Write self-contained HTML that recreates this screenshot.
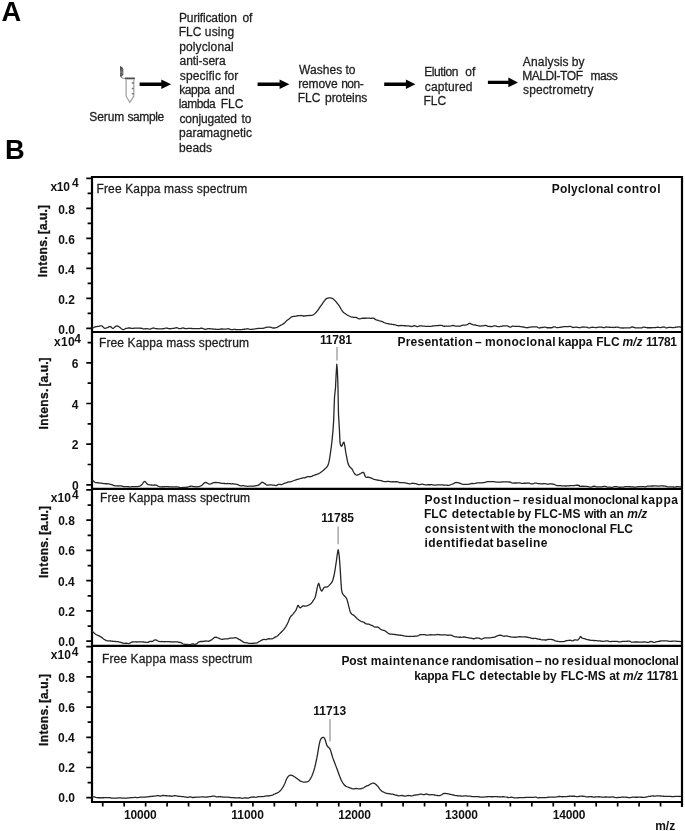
<!DOCTYPE html>
<html><head><meta charset="utf-8"><title>Figure</title>
<style>
html,body{margin:0;padding:0;background:#fff;}
body{width:685px;height:831px;overflow:hidden;position:relative;font-family:"Liberation Sans", sans-serif;}
svg{position:absolute;left:0;top:0;display:block;will-change:transform;filter:blur(0.3px);}
svg text{font-family:"Liberation Sans", sans-serif;}
</style></head>
<body>
<svg width="685" height="831" viewBox="0 0 685 831">

<g>
<defs><linearGradient id="capg" x1="0" y1="0" x2="0" y2="1"><stop offset="0" stop-color="#3a3a3a"/><stop offset="0.25" stop-color="#555"/><stop offset="0.6" stop-color="#7a7a7a"/><stop offset="1" stop-color="#4a4a4a"/></linearGradient></defs>
<path d="M120.0,66.0 L122.3,67.3 L123.4,69.6 L123.4,74.4 L121.6,76.8 L120.0,76.8 Z" fill="url(#capg)"/>
<path d="M120.4,76.6 Q121.6,78.5 125.4,78.5" fill="none" stroke="#8a8a8a" stroke-width="1"/>
<rect x="125.0" y="77.5" width="9.9" height="1.8" fill="#4d4d4d"/>
<path d="M126.1,79.2 L126.1,96.2 L129.8,102.4 L133.8,96.2 L133.8,79.2" fill="none" stroke="#a2a2a2" stroke-width="1.25"/>
<path d="M131.7,83.1 h2.1 M131.7,88.4 h2.1 M131.7,93.7 h2.1" stroke="#7a7a7a" stroke-width="1.5"/>
</g>
<path d="M139.6,82.5 L161.3,82.5 L161.3,79.4 L171.1,84.2 L161.3,89.0 L161.3,85.9 L139.6,85.9 Z" fill="#000"/>
<path d="M257.6,82.6 L279.6,82.6 L279.6,79.5 L289.4,84.3 L279.6,89.1 L279.6,86.0 L257.6,86.0 Z" fill="#000"/>
<path d="M384.2,82.6 L405.9,82.6 L405.9,79.5 L415.4,84.3 L405.9,89.1 L405.9,86.0 L384.2,86.0 Z" fill="#000"/>
<path d="M487.9,80.7 L508.3,80.7 L508.3,77.60000000000001 L518.0,82.4 L508.3,87.2 L508.3,84.10000000000001 L487.9,84.10000000000001 Z" fill="#000"/>
<g stroke="#000" stroke-width="2.2" fill="none">
<path d="M92,176 L92,802 M91,177 L682,177 M682,176 L682,807 M91,332 L683,332 M91,488.8 L683,488.8 M91,645.8 L683,645.8 M91,802 L683,802"/>
</g>
<path d="M86.3,328.30 L92,328.30 M87.6,313.30 L92,313.30 M86.3,298.30 L92,298.30 M87.6,283.30 L92,283.30 M86.3,268.30 L92,268.30 M87.6,253.30 L92,253.30 M86.3,238.30 L92,238.30 M87.6,223.30 L92,223.30 M86.3,208.30 L92,208.30 M87.6,193.30 L92,193.30 M86.3,178.30 L92,178.30 M86.3,484.80 L92,484.80 M87.6,464.48 L92,464.48 M86.3,444.16 L92,444.16 M87.6,423.84 L92,423.84 M86.3,403.52 L92,403.52 M87.6,383.20 L92,383.20 M86.3,362.88 L92,362.88 M87.6,342.56 L92,342.56 M86.3,641.20 L92,641.20 M87.6,626.08 L92,626.08 M86.3,610.95 L92,610.95 M87.6,595.83 L92,595.83 M86.3,580.70 L92,580.70 M87.6,565.58 L92,565.58 M86.3,550.45 L92,550.45 M87.6,535.33 L92,535.33 M86.3,520.20 L92,520.20 M87.6,505.08 L92,505.08 M86.3,489.95 L92,489.95 M86.3,797.70 L92,797.70 M87.6,782.60 L92,782.60 M86.3,767.50 L92,767.50 M87.6,752.40 L92,752.40 M86.3,737.30 L92,737.30 M87.6,722.20 L92,722.20 M86.3,707.10 L92,707.10 M87.6,692.00 L92,692.00 M86.3,676.90 L92,676.90 M87.6,661.80 L92,661.80 M86.3,646.70 L92,646.70" stroke="#000" stroke-width="1.7" fill="none"/>
<path d="M102.73,802 L102.73,806.6 M124.18,802 L124.18,806.6 M145.64,802 L145.64,806.6 M167.09,802 L167.09,806.6 M188.55,802 L188.55,806.6 M210.00,802 L210.00,806.6 M231.45,802 L231.45,806.6 M252.91,802 L252.91,806.6 M274.36,802 L274.36,806.6 M295.82,802 L295.82,806.6 M317.27,802 L317.27,806.6 M338.73,802 L338.73,806.6 M360.18,802 L360.18,806.6 M381.64,802 L381.64,806.6 M403.09,802 L403.09,806.6 M424.55,802 L424.55,806.6 M446.00,802 L446.00,806.6 M467.45,802 L467.45,806.6 M488.91,802 L488.91,806.6 M510.36,802 L510.36,806.6 M531.82,802 L531.82,806.6 M553.27,802 L553.27,806.6 M574.73,802 L574.73,806.6 M596.18,802 L596.18,806.6 M617.64,802 L617.64,806.6 M639.09,802 L639.09,806.6 M660.55,802 L660.55,806.6 M682.00,802 L682.00,806.6" stroke="#000" stroke-width="1.7" fill="none"/>
<path d="M337,347.1 L337,360.6" stroke="#8c8c8c" stroke-width="1.15"/>
<path d="M338.1,526.5 L338.1,544.2" stroke="#8c8c8c" stroke-width="1.15"/>
<path d="M330,719.2 L330,741.6" stroke="#8c8c8c" stroke-width="1.15"/>
<text x="1.39" y="20.50" font-size="27.3" font-weight="bold" fill="#000" stroke="#000" stroke-width="0.0">A</text>
<text x="4.96" y="159.00" font-size="27.3" font-weight="bold" fill="#000" stroke="#000" stroke-width="0.0">B</text>
<text x="89.32" y="120.50" font-size="12" font-weight="normal" fill="#1e1e1e" stroke="#1e1e1e" stroke-width="0.28" textLength="34.91" lengthAdjust="spacing">Serum</text>
<text x="127.41" y="120.50" font-size="12" font-weight="normal" fill="#1e1e1e" stroke="#1e1e1e" stroke-width="0.28" textLength="36.75" lengthAdjust="spacing">sample</text>
<text x="178.96" y="21.70" font-size="12" font-weight="normal" fill="#1e1e1e" stroke="#1e1e1e" stroke-width="0.28" textLength="57.89" lengthAdjust="spacing">Purification</text>
<text x="242.44" y="21.70" font-size="12" font-weight="normal" fill="#1e1e1e" stroke="#1e1e1e" stroke-width="0.28">of</text>
<text x="178.70" y="36.15" font-size="12" font-weight="normal" fill="#1e1e1e" stroke="#1e1e1e" stroke-width="0.28">FLC</text>
<text x="204.85" y="36.15" font-size="12" font-weight="normal" fill="#1e1e1e" stroke="#1e1e1e" stroke-width="0.28" textLength="29.36" lengthAdjust="spacing">using</text>
<text x="179.15" y="50.60" font-size="12" font-weight="normal" fill="#1e1e1e" stroke="#1e1e1e" stroke-width="0.28" textLength="54.56" lengthAdjust="spacing">polyclonal</text>
<text x="179.53" y="65.05" font-size="12" font-weight="normal" fill="#1e1e1e" stroke="#1e1e1e" stroke-width="0.28" textLength="46.14" lengthAdjust="spacing">anti-sera</text>
<text x="179.71" y="79.50" font-size="12" font-weight="normal" fill="#1e1e1e" stroke="#1e1e1e" stroke-width="0.28" textLength="41.23" lengthAdjust="spacing">specific</text>
<text x="224.23" y="79.50" font-size="12" font-weight="normal" fill="#1e1e1e" stroke="#1e1e1e" stroke-width="0.28">for</text>
<text x="179.15" y="93.95" font-size="12" font-weight="normal" fill="#1e1e1e" stroke="#1e1e1e" stroke-width="0.28" textLength="31.04" lengthAdjust="spacing">kappa</text>
<text x="214.59" y="93.95" font-size="12" font-weight="normal" fill="#1e1e1e" stroke="#1e1e1e" stroke-width="0.28">and</text>
<text x="178.81" y="108.40" font-size="12" font-weight="normal" fill="#1e1e1e" stroke="#1e1e1e" stroke-width="0.28" textLength="36.96" lengthAdjust="spacing">lambda</text>
<text x="220.75" y="108.40" font-size="12" font-weight="normal" fill="#1e1e1e" stroke="#1e1e1e" stroke-width="0.28">FLC</text>
<text x="179.53" y="122.85" font-size="12" font-weight="normal" fill="#1e1e1e" stroke="#1e1e1e" stroke-width="0.28" textLength="57.31" lengthAdjust="spacing">conjugated</text>
<text x="241.44" y="122.85" font-size="12" font-weight="normal" fill="#1e1e1e" stroke="#1e1e1e" stroke-width="0.28">to</text>
<text x="179.05" y="137.30" font-size="12" font-weight="normal" fill="#1e1e1e" stroke="#1e1e1e" stroke-width="0.28" textLength="72.85" lengthAdjust="spacing">paramagnetic</text>
<text x="179.05" y="151.75" font-size="12" font-weight="normal" fill="#1e1e1e" stroke="#1e1e1e" stroke-width="0.28" textLength="32.98" lengthAdjust="spacing">beads</text>
<text x="298.90" y="73.50" font-size="12" font-weight="normal" fill="#1e1e1e" stroke="#1e1e1e" stroke-width="0.28" textLength="43.47" lengthAdjust="spacing">Washes</text>
<text x="345.39" y="73.50" font-size="12" font-weight="normal" fill="#1e1e1e" stroke="#1e1e1e" stroke-width="0.28">to</text>
<text x="298.15" y="87.95" font-size="12" font-weight="normal" fill="#1e1e1e" stroke="#1e1e1e" stroke-width="0.28" textLength="39.44" lengthAdjust="spacing">remove</text>
<text x="341.23" y="87.95" font-size="12" font-weight="normal" fill="#1e1e1e" stroke="#1e1e1e" stroke-width="0.28" textLength="22.42" lengthAdjust="spacing">non-</text>
<text x="297.70" y="102.40" font-size="12" font-weight="normal" fill="#1e1e1e" stroke="#1e1e1e" stroke-width="0.28">FLC</text>
<text x="325.05" y="102.40" font-size="12" font-weight="normal" fill="#1e1e1e" stroke="#1e1e1e" stroke-width="0.28" textLength="42.27" lengthAdjust="spacing">proteins</text>
<text x="424.26" y="76.00" font-size="12" font-weight="normal" fill="#1e1e1e" stroke="#1e1e1e" stroke-width="0.28" textLength="34.15" lengthAdjust="spacing">Elution</text>
<text x="465.34" y="76.00" font-size="12" font-weight="normal" fill="#1e1e1e" stroke="#1e1e1e" stroke-width="0.28">of</text>
<text x="424.83" y="90.50" font-size="12" font-weight="normal" fill="#1e1e1e" stroke="#1e1e1e" stroke-width="0.28" textLength="47.67" lengthAdjust="spacing">captured</text>
<text x="423.50" y="105.00" font-size="12" font-weight="normal" fill="#1e1e1e" stroke="#1e1e1e" stroke-width="0.28">FLC</text>
<text x="522.80" y="65.50" font-size="12" font-weight="normal" fill="#1e1e1e" stroke="#1e1e1e" stroke-width="0.28" textLength="45.82" lengthAdjust="spacing">Analysis</text>
<text x="571.79" y="65.50" font-size="12" font-weight="normal" fill="#1e1e1e" stroke="#1e1e1e" stroke-width="0.28">by</text>
<text x="522.15" y="80.00" font-size="12" font-weight="normal" fill="#1e1e1e" stroke="#1e1e1e" stroke-width="0.28" textLength="60.85" lengthAdjust="spacing">MALDI-TOF</text>
<text x="590.45" y="80.00" font-size="12" font-weight="normal" fill="#1e1e1e" stroke="#1e1e1e" stroke-width="0.28" textLength="27.28" lengthAdjust="spacing">mass</text>
<text x="523.11" y="94.40" font-size="12" font-weight="normal" fill="#1e1e1e" stroke="#1e1e1e" stroke-width="0.28" textLength="70.48" lengthAdjust="spacing">spectrometry</text>
<text x="58.26" y="333.50" font-size="12" font-weight="bold" fill="#111" stroke="#111" stroke-width="0.0">0.0</text>
<text x="58.17" y="303.50" font-size="12" font-weight="bold" fill="#111" stroke="#111" stroke-width="0.0">0.2</text>
<text x="57.98" y="273.50" font-size="12" font-weight="bold" fill="#111" stroke="#111" stroke-width="0.0">0.4</text>
<text x="58.17" y="243.50" font-size="12" font-weight="bold" fill="#111" stroke="#111" stroke-width="0.0">0.6</text>
<text x="58.17" y="213.50" font-size="12" font-weight="bold" fill="#111" stroke="#111" stroke-width="0.0">0.8</text>
<text x="71.92" y="489.80" font-size="12" font-weight="bold" fill="#111" stroke="#111" stroke-width="0.0">0</text>
<text x="71.82" y="449.16" font-size="12" font-weight="bold" fill="#111" stroke="#111" stroke-width="0.0">2</text>
<text x="71.82" y="408.52" font-size="12" font-weight="bold" fill="#111" stroke="#111" stroke-width="0.0">4</text>
<text x="71.82" y="367.88" font-size="12" font-weight="bold" fill="#111" stroke="#111" stroke-width="0.0">6</text>
<text x="58.26" y="646.20" font-size="12" font-weight="bold" fill="#111" stroke="#111" stroke-width="0.0">0.0</text>
<text x="58.17" y="615.95" font-size="12" font-weight="bold" fill="#111" stroke="#111" stroke-width="0.0">0.2</text>
<text x="57.98" y="585.70" font-size="12" font-weight="bold" fill="#111" stroke="#111" stroke-width="0.0">0.4</text>
<text x="58.17" y="555.45" font-size="12" font-weight="bold" fill="#111" stroke="#111" stroke-width="0.0">0.6</text>
<text x="58.17" y="525.20" font-size="12" font-weight="bold" fill="#111" stroke="#111" stroke-width="0.0">0.8</text>
<text x="58.26" y="802.30" font-size="12" font-weight="bold" fill="#111" stroke="#111" stroke-width="0.0">0.0</text>
<text x="58.17" y="772.10" font-size="12" font-weight="bold" fill="#111" stroke="#111" stroke-width="0.0">0.2</text>
<text x="57.98" y="741.90" font-size="12" font-weight="bold" fill="#111" stroke="#111" stroke-width="0.0">0.4</text>
<text x="58.17" y="711.70" font-size="12" font-weight="bold" fill="#111" stroke="#111" stroke-width="0.0">0.6</text>
<text x="58.17" y="681.50" font-size="12" font-weight="bold" fill="#111" stroke="#111" stroke-width="0.0">0.8</text>
<text x="50.60" y="190.70" font-size="12" font-weight="bold" fill="#111" stroke="#111" stroke-width="0.0" textLength="19.22" lengthAdjust="spacing">x10</text>
<text x="71.88" y="187.00" font-size="12" font-weight="bold" fill="#111" stroke="#111" stroke-width="0.0">4</text>
<text x="54.00" y="345.90" font-size="12" font-weight="bold" fill="#111" stroke="#111" stroke-width="0.0" textLength="20.57" lengthAdjust="spacing">x10</text>
<text x="74.27" y="342.70" font-size="12" font-weight="bold" fill="#111" stroke="#111" stroke-width="0.0">4</text>
<text x="50.80" y="502.40" font-size="12" font-weight="bold" fill="#111" stroke="#111" stroke-width="0.0" textLength="20.12" lengthAdjust="spacing">x10</text>
<text x="71.97" y="498.90" font-size="12" font-weight="bold" fill="#111" stroke="#111" stroke-width="0.0">4</text>
<text x="50.80" y="658.90" font-size="12" font-weight="bold" fill="#111" stroke="#111" stroke-width="0.0" textLength="20.12" lengthAdjust="spacing">x10</text>
<text x="71.67" y="655.80" font-size="12" font-weight="bold" fill="#111" stroke="#111" stroke-width="0.0">4</text>
<text x="-0.75" y="0" font-size="12" font-weight="bold" fill="#111" stroke="#111" stroke-width="0.3" textLength="40.76" lengthAdjust="spacing" transform="translate(46.90,276.40) rotate(-90)">Intens.</text>
<text x="-0.56" y="0" font-size="12" font-weight="bold" fill="#111" stroke="#111" stroke-width="0.3" textLength="29.05" lengthAdjust="spacing" transform="translate(46.90,233.60) rotate(-90)">[a.u.]</text>
<text x="-0.75" y="0" font-size="12" font-weight="bold" fill="#111" stroke="#111" stroke-width="0.3" textLength="40.76" lengthAdjust="spacing" transform="translate(47.80,428.70) rotate(-90)">Intens.</text>
<text x="-0.56" y="0" font-size="12" font-weight="bold" fill="#111" stroke="#111" stroke-width="0.3" textLength="29.05" lengthAdjust="spacing" transform="translate(47.80,385.90) rotate(-90)">[a.u.]</text>
<text x="-0.75" y="0" font-size="12" font-weight="bold" fill="#111" stroke="#111" stroke-width="0.3" textLength="40.76" lengthAdjust="spacing" transform="translate(47.80,577.30) rotate(-90)">Intens.</text>
<text x="-0.56" y="0" font-size="12" font-weight="bold" fill="#111" stroke="#111" stroke-width="0.3" textLength="29.05" lengthAdjust="spacing" transform="translate(47.80,534.50) rotate(-90)">[a.u.]</text>
<text x="-0.75" y="0" font-size="12" font-weight="bold" fill="#111" stroke="#111" stroke-width="0.3" textLength="40.76" lengthAdjust="spacing" transform="translate(47.80,745.20) rotate(-90)">Intens.</text>
<text x="-0.56" y="0" font-size="12" font-weight="bold" fill="#111" stroke="#111" stroke-width="0.3" textLength="29.05" lengthAdjust="spacing" transform="translate(47.80,702.40) rotate(-90)">[a.u.]</text>
<text x="124.05" y="819.00" font-size="12" font-weight="bold" fill="#111" stroke="#111" stroke-width="0.0" textLength="32.70" lengthAdjust="spacing">10000</text>
<text x="231.35" y="819.00" font-size="12" font-weight="bold" fill="#111" stroke="#111" stroke-width="0.0" textLength="32.49" lengthAdjust="spacing">11000</text>
<text x="338.15" y="819.00" font-size="12" font-weight="bold" fill="#111" stroke="#111" stroke-width="0.0" textLength="32.70" lengthAdjust="spacing">12000</text>
<text x="445.05" y="819.00" font-size="12" font-weight="bold" fill="#111" stroke="#111" stroke-width="0.0" textLength="32.95" lengthAdjust="spacing">13000</text>
<text x="552.85" y="819.00" font-size="12" font-weight="bold" fill="#111" stroke="#111" stroke-width="0.0" textLength="32.58" lengthAdjust="spacing">14000</text>
<text x="655.21" y="829.80" font-size="12" font-weight="bold" fill="#111" stroke="#111" stroke-width="0.0">m/z</text>
<text x="96.46" y="193.00" font-size="12" font-weight="normal" fill="#1e1e1e" stroke="#1e1e1e" stroke-width="0.28" textLength="150.70" lengthAdjust="spacing">Free Kappa mass spectrum</text>
<text x="98.96" y="347.10" font-size="12" font-weight="normal" fill="#1e1e1e" stroke="#1e1e1e" stroke-width="0.28" textLength="149.97" lengthAdjust="spacing">Free Kappa mass spectrum</text>
<text x="100.06" y="501.70" font-size="12" font-weight="normal" fill="#1e1e1e" stroke="#1e1e1e" stroke-width="0.28" textLength="149.97" lengthAdjust="spacing">Free Kappa mass spectrum</text>
<text x="101.96" y="662.80" font-size="12" font-weight="normal" fill="#1e1e1e" stroke="#1e1e1e" stroke-width="0.28" textLength="150.38" lengthAdjust="spacing">Free Kappa mass spectrum</text>
<text x="551.85" y="192.90" font-size="12" font-weight="bold" fill="#111" stroke="#111" stroke-width="0.0" textLength="61.84" lengthAdjust="spacing">Polyclonal</text>
<text x="616.68" y="192.90" font-size="12" font-weight="bold" fill="#111" stroke="#111" stroke-width="0.0" textLength="43.81" lengthAdjust="spacing">control</text>
<text x="397.45" y="345.60" font-size="12" font-weight="bold" fill="#111" stroke="#111" stroke-width="0.0" textLength="75.35" lengthAdjust="spacing">Presentation</text>
<text x="474.92" y="345.60" font-size="12" font-weight="bold" fill="#111" stroke="#111" stroke-width="0.0">–</text>
<text x="484.95" y="345.60" font-size="12" font-weight="bold" fill="#111" stroke="#111" stroke-width="0.0" textLength="70.69" lengthAdjust="spacing">monoclonal</text>
<text x="558.05" y="345.60" font-size="12" font-weight="bold" fill="#111" stroke="#111" stroke-width="0.0" textLength="34.42" lengthAdjust="spacing">kappa</text>
<text x="596.23" y="345.60" font-size="12" font-weight="bold" fill="#111" stroke="#111" stroke-width="0.0">FLC</text>
<text x="622.40" y="345.60" font-size="12" font-weight="bold" fill="#111" stroke="#111" stroke-width="0.0"><tspan font-style="italic">m/z</tspan></text>
<text x="646.05" y="345.60" font-size="12" font-weight="bold" fill="#111" stroke="#111" stroke-width="0.0" textLength="30.88" lengthAdjust="spacing">11781</text>
<text x="424.45" y="504.00" font-size="12" font-weight="bold" fill="#111" stroke="#111" stroke-width="0.0" textLength="27.34" lengthAdjust="spacing">Post</text>
<text x="454.35" y="504.00" font-size="12" font-weight="bold" fill="#111" stroke="#111" stroke-width="0.0" textLength="56.74" lengthAdjust="spacing">Induction</text>
<text x="513.07" y="504.00" font-size="12" font-weight="bold" fill="#111" stroke="#111" stroke-width="0.0">–</text>
<text x="522.75" y="504.00" font-size="12" font-weight="bold" fill="#111" stroke="#111" stroke-width="0.0" textLength="48.81" lengthAdjust="spacing">residual</text>
<text x="573.55" y="504.00" font-size="12" font-weight="bold" fill="#111" stroke="#111" stroke-width="0.0" textLength="65.47" lengthAdjust="spacing">monoclonal</text>
<text x="641.05" y="504.00" font-size="12" font-weight="bold" fill="#111" stroke="#111" stroke-width="0.0" textLength="36.93" lengthAdjust="spacing">kappa</text>
<text x="423.98" y="518.40" font-size="12" font-weight="bold" fill="#111" stroke="#111" stroke-width="0.0">FLC</text>
<text x="451.82" y="518.40" font-size="12" font-weight="bold" fill="#111" stroke="#111" stroke-width="0.0" textLength="63.26" lengthAdjust="spacing">detectable</text>
<text x="517.28" y="518.40" font-size="12" font-weight="bold" fill="#111" stroke="#111" stroke-width="0.0">by</text>
<text x="534.25" y="518.40" font-size="12" font-weight="bold" fill="#111" stroke="#111" stroke-width="0.0" textLength="46.22" lengthAdjust="spacing">FLC-MS</text>
<text x="584.29" y="518.40" font-size="12" font-weight="bold" fill="#111" stroke="#111" stroke-width="0.0" textLength="22.53" lengthAdjust="spacing">with</text>
<text x="609.74" y="518.40" font-size="12" font-weight="bold" fill="#111" stroke="#111" stroke-width="0.0">an</text>
<text x="627.30" y="518.40" font-size="12" font-weight="bold" fill="#111" stroke="#111" stroke-width="0.0"><tspan font-style="italic">m/z</tspan></text>
<text x="424.82" y="532.80" font-size="12" font-weight="bold" fill="#111" stroke="#111" stroke-width="0.0" textLength="64.26" lengthAdjust="spacing">consistent</text>
<text x="490.89" y="532.80" font-size="12" font-weight="bold" fill="#111" stroke="#111" stroke-width="0.0" textLength="23.59" lengthAdjust="spacing">with</text>
<text x="517.90" y="532.80" font-size="12" font-weight="bold" fill="#111" stroke="#111" stroke-width="0.0">the</text>
<text x="538.45" y="532.80" font-size="12" font-weight="bold" fill="#111" stroke="#111" stroke-width="0.0" textLength="68.25" lengthAdjust="spacing">monoclonal</text>
<text x="609.63" y="532.80" font-size="12" font-weight="bold" fill="#111" stroke="#111" stroke-width="0.0">FLC</text>
<text x="424.45" y="547.20" font-size="12" font-weight="bold" fill="#111" stroke="#111" stroke-width="0.0" textLength="57.65" lengthAdjust="spacing">identified</text>
<text x="482.75" y="547.20" font-size="12" font-weight="bold" fill="#111" stroke="#111" stroke-width="0.0">at</text>
<text x="496.35" y="547.20" font-size="12" font-weight="bold" fill="#111" stroke="#111" stroke-width="0.0" textLength="51.14" lengthAdjust="spacing">baseline</text>
<text x="341.55" y="665.20" font-size="12" font-weight="bold" fill="#111" stroke="#111" stroke-width="0.0" textLength="25.34" lengthAdjust="spacing">Post</text>
<text x="370.64" y="665.20" font-size="12" font-weight="bold" fill="#111" stroke="#111" stroke-width="0.0" textLength="78.31" lengthAdjust="spacing">maintenance</text>
<text x="451.55" y="665.20" font-size="12" font-weight="bold" fill="#111" stroke="#111" stroke-width="0.0" textLength="82.08" lengthAdjust="spacing">randomisation</text>
<text x="535.22" y="665.20" font-size="12" font-weight="bold" fill="#111" stroke="#111" stroke-width="0.0">–</text>
<text x="544.39" y="665.20" font-size="12" font-weight="bold" fill="#111" stroke="#111" stroke-width="0.0">no</text>
<text x="561.75" y="665.20" font-size="12" font-weight="bold" fill="#111" stroke="#111" stroke-width="0.0" textLength="49.38" lengthAdjust="spacing">residual</text>
<text x="613.25" y="665.20" font-size="12" font-weight="bold" fill="#111" stroke="#111" stroke-width="0.0" textLength="65.58" lengthAdjust="spacing">monoclonal</text>
<text x="414.15" y="679.60" font-size="12" font-weight="bold" fill="#111" stroke="#111" stroke-width="0.0" textLength="34.05" lengthAdjust="spacing">kappa</text>
<text x="451.73" y="679.60" font-size="12" font-weight="bold" fill="#111" stroke="#111" stroke-width="0.0">FLC</text>
<text x="479.62" y="679.60" font-size="12" font-weight="bold" fill="#111" stroke="#111" stroke-width="0.0" textLength="61.04" lengthAdjust="spacing">detectable</text>
<text x="542.68" y="679.60" font-size="12" font-weight="bold" fill="#111" stroke="#111" stroke-width="0.0">by</text>
<text x="560.85" y="679.60" font-size="12" font-weight="bold" fill="#111" stroke="#111" stroke-width="0.0" textLength="44.90" lengthAdjust="spacing">FLC-MS</text>
<text x="609.15" y="679.60" font-size="12" font-weight="bold" fill="#111" stroke="#111" stroke-width="0.0">at</text>
<text x="623.10" y="679.60" font-size="12" font-weight="bold" fill="#111" stroke="#111" stroke-width="0.0"><tspan font-style="italic">m/z</tspan></text>
<text x="646.65" y="679.60" font-size="12" font-weight="bold" fill="#111" stroke="#111" stroke-width="0.0" textLength="31.51" lengthAdjust="spacing">11781</text>
<text x="319.95" y="343.80" font-size="12" font-weight="bold" fill="#111" stroke="#111" stroke-width="0.0" textLength="31.88" lengthAdjust="spacing">11781</text>
<text x="321.35" y="522.40" font-size="12" font-weight="bold" fill="#111" stroke="#111" stroke-width="0.0" textLength="32.63" lengthAdjust="spacing">11785</text>
<text x="313.25" y="714.60" font-size="12" font-weight="bold" fill="#111" stroke="#111" stroke-width="0.0" textLength="33.01" lengthAdjust="spacing">11713</text>
<path d="M92.00,328.08 L92.44,328.00 L93.01,327.83 L93.69,327.54 L94.45,327.19 L95.26,326.89 L96.12,326.69 L96.98,326.55 L97.82,326.43 L98.62,326.31 L99.36,326.12 L100.00,325.94 L100.87,325.80 L101.65,325.91 L102.35,326.26 L103.01,326.89 L103.66,327.61 L104.31,328.14 L105.00,328.30 L105.73,328.22 L106.49,327.98 L107.25,327.67 L108.00,327.33 L108.72,326.91 L109.39,326.56 L110.00,326.47 L110.87,326.83 L111.56,327.51 L112.23,328.14 L113.00,328.35 L113.60,328.08 L114.22,327.56 L114.88,326.95 L115.56,326.40 L116.26,326.02 L117.00,325.92 L117.64,326.11 L118.27,326.42 L118.92,326.77 L119.59,327.22 L120.32,327.80 L121.12,328.44 L122.00,329.07 L122.57,329.41 L123.11,329.56 L123.64,329.53 L124.18,329.35 L124.76,329.04 L125.38,328.69 L126.08,328.44 L126.87,328.32 L127.77,328.15 L128.81,327.99 L130.00,328.00 L130.50,328.11 L131.02,328.25 L131.57,328.36 L132.14,328.41 L132.74,328.38 L133.36,328.32 L133.99,328.24 L134.65,328.18 L135.32,328.16 L136.01,328.16 L136.71,328.15 L137.42,328.15 L138.15,328.15 L138.88,328.16 L139.62,328.19 L140.37,328.23 L141.12,328.24 L141.88,328.36 L142.64,328.66 L143.39,328.89 L144.15,328.89 L144.91,328.83 L145.66,328.75 L146.40,328.69 L147.14,328.68 L147.87,328.79 L148.59,328.96 L149.30,329.08 L150.00,329.07 L150.69,328.90 L151.39,328.61 L152.09,328.31 L152.80,328.09 L153.51,328.02 L154.22,328.14 L154.94,328.39 L155.66,328.62 L156.37,328.71 L157.09,328.73 L157.81,328.79 L158.53,328.86 L159.24,328.91 L159.96,328.92 L160.67,328.89 L161.38,328.84 L162.08,328.79 L162.78,328.76 L163.47,328.72 L164.16,328.57 L164.84,328.37 L165.52,328.20 L166.19,328.10 L166.85,328.11 L167.50,328.24 L168.14,328.44 L168.77,328.62 L169.39,328.74 L170.00,328.75 L170.81,328.68 L171.56,328.54 L172.27,328.41 L172.95,328.33 L173.59,328.30 L174.21,328.24 L174.81,328.12 L175.41,327.96 L175.99,327.83 L176.58,327.76 L177.17,327.78 L177.78,327.98 L178.42,328.30 L179.07,328.59 L179.77,328.69 L180.50,328.56 L181.28,328.30 L182.11,328.04 L183.01,327.99 L183.97,328.20 L185.00,328.51 L185.53,328.62 L186.08,328.66 L186.64,328.63 L187.22,328.57 L187.81,328.47 L188.41,328.38 L189.03,328.33 L189.66,328.32 L190.30,328.36 L190.95,328.42 L191.61,328.48 L192.28,328.52 L192.97,328.54 L193.66,328.55 L194.36,328.57 L195.06,328.59 L195.78,328.60 L196.50,328.62 L197.22,328.62 L197.96,328.62 L198.69,328.62 L199.43,328.62 L200.18,328.47 L200.93,328.24 L201.68,328.14 L202.43,328.27 L203.19,328.59 L203.94,328.98 L204.70,329.26 L205.45,329.32 L206.21,329.20 L206.96,328.98 L207.71,328.77 L208.46,328.68 L209.21,328.70 L209.95,328.77 L210.69,328.83 L211.42,328.85 L212.15,328.90 L212.87,328.99 L213.59,329.09 L214.30,329.18 L215.00,329.22 L215.70,329.24 L216.42,329.28 L217.15,329.32 L217.89,329.36 L218.64,329.37 L219.40,329.28 L220.16,329.12 L220.93,329.00 L221.71,329.00 L222.50,329.02 L223.28,329.05 L224.07,329.08 L224.87,329.10 L225.66,329.09 L226.46,328.98 L227.25,328.85 L228.04,328.77 L228.83,328.82 L229.62,329.06 L230.40,329.37 L231.18,329.58 L231.95,329.61 L232.71,329.53 L233.46,329.45 L234.21,329.43 L234.95,329.46 L235.67,329.50 L236.38,329.54 L237.08,329.57 L237.77,329.59 L238.44,329.58 L239.10,329.57 L239.74,329.55 L240.36,329.53 L240.96,329.53 L241.54,329.53 L242.11,329.49 L242.65,329.43 L243.17,329.36 L243.66,329.30 L244.13,329.27 L244.58,329.27 L245.00,329.24 L246.98,328.77 L248.10,328.79 L248.63,328.93 L248.82,329.02 L248.94,329.07 L249.24,329.15 L250.00,329.30 L250.56,329.38 L251.17,329.40 L251.81,329.34 L252.49,329.26 L253.20,329.15 L253.94,329.06 L254.69,328.96 L255.45,328.82 L256.22,328.67 L257.00,328.55 L257.77,328.47 L258.53,328.46 L259.27,328.46 L260.00,328.44 L260.73,328.38 L261.47,328.33 L262.23,328.29 L263.00,328.24 L263.78,328.17 L264.55,327.96 L265.31,327.63 L266.06,327.34 L266.80,327.18 L267.51,327.15 L268.19,327.16 L268.83,327.17 L269.44,327.15 L270.00,327.15 L270.98,327.40 L271.79,327.72 L272.49,327.93 L273.12,328.00 L273.72,328.02 L274.33,327.99 L275.00,327.89 L275.71,327.73 L276.43,327.54 L277.14,327.29 L277.86,326.91 L278.57,326.44 L279.29,325.95 L280.00,325.66 L280.72,325.28 L281.45,324.90 L282.17,324.52 L282.90,324.10 L283.62,323.64 L284.32,323.11 L285.00,322.47 L285.77,321.64 L286.51,320.85 L287.24,320.20 L287.96,319.69 L288.67,319.19 L289.40,318.76 L290.08,318.10 L290.70,317.48 L291.32,316.98 L292.01,316.69 L292.81,316.52 L293.80,316.42 L294.34,316.37 L294.92,316.31 L295.55,316.21 L296.22,316.06 L296.92,315.88 L297.64,315.76 L298.37,315.70 L299.10,315.64 L299.84,315.58 L300.56,315.53 L301.27,315.51 L301.95,315.63 L302.60,315.82 L303.34,316.00 L304.08,316.02 L304.82,315.94 L305.54,315.82 L306.25,315.73 L306.96,315.72 L307.64,315.71 L308.31,315.61 L308.96,315.48 L309.59,315.35 L310.20,315.52 L310.99,315.39 L311.72,315.27 L312.42,315.10 L313.08,314.83 L313.73,314.46 L314.37,313.97 L315.03,313.40 L315.70,312.77 L316.40,312.04 L317.10,311.20 L317.82,310.27 L318.52,309.28 L319.23,308.23 L319.91,307.19 L320.57,306.21 L321.20,305.34 L321.98,304.28 L322.72,303.24 L323.42,302.21 L324.10,301.23 L324.79,300.36 L325.50,299.36 L326.23,298.80 L326.96,298.44 L327.69,298.20 L328.43,298.03 L329.17,297.91 L329.90,297.88 L330.63,297.92 L331.37,298.05 L332.10,298.26 L332.83,298.64 L333.57,299.22 L334.30,299.92 L335.02,300.64 L335.73,301.44 L336.43,302.28 L337.15,303.16 L337.90,304.10 L338.70,305.13 L339.31,306.02 L339.92,307.04 L340.54,308.13 L341.18,309.27 L341.85,310.39 L342.57,311.43 L343.35,312.33 L344.20,313.04 L344.81,313.43 L345.44,313.82 L346.10,314.24 L346.78,314.68 L347.48,315.11 L348.21,315.52 L348.95,315.90 L349.71,316.24 L350.49,316.54 L351.28,316.81 L352.08,317.06 L352.90,317.18 L353.53,317.31 L354.20,317.37 L354.88,317.40 L355.59,317.44 L356.32,317.52 L357.05,317.83 L357.80,318.32 L358.54,318.73 L359.28,318.86 L360.00,318.79 L360.72,318.63 L361.41,318.43 L362.08,318.28 L362.72,318.23 L363.33,318.25 L363.90,318.27 L364.82,318.27 L365.64,318.23 L366.40,318.15 L367.09,318.06 L367.75,318.04 L368.39,318.06 L369.04,318.13 L369.70,318.21 L370.40,318.29 L371.12,318.32 L371.82,318.25 L372.51,318.18 L373.21,318.20 L373.91,318.40 L374.63,318.87 L375.38,319.43 L376.17,319.79 L377.00,320.03 L377.61,320.20 L378.23,320.40 L378.88,320.62 L379.55,320.83 L380.23,321.02 L380.92,321.20 L381.62,321.41 L382.32,321.65 L383.03,321.97 L383.73,322.36 L384.43,322.74 L385.12,323.02 L385.80,323.23 L386.54,323.41 L387.29,323.56 L388.06,323.72 L388.83,323.90 L389.59,324.07 L390.36,324.15 L391.11,324.19 L391.84,324.27 L392.55,324.41 L393.24,324.52 L393.89,324.60 L394.50,324.67 L395.24,324.83 L395.76,325.00 L396.16,325.16 L396.54,325.32 L397.02,325.47 L397.68,325.63 L398.64,325.75 L400.00,325.63 L400.45,325.55 L400.92,325.49 L401.42,325.47 L401.93,325.50 L402.47,325.54 L403.02,325.61 L403.60,325.68 L404.19,325.73 L404.80,325.76 L405.43,325.77 L406.08,325.78 L406.74,325.80 L407.42,325.81 L408.12,325.81 L408.83,325.88 L409.55,326.05 L410.29,326.25 L411.04,326.43 L411.80,326.51 L412.57,326.34 L413.36,325.93 L414.16,325.67 L414.97,325.78 L415.78,326.15 L416.61,326.50 L417.45,326.59 L418.29,326.44 L419.14,326.16 L420.00,325.91 L420.59,325.81 L421.20,325.82 L421.83,325.91 L422.47,326.05 L423.12,326.16 L423.80,326.19 L424.48,326.22 L425.18,326.29 L425.88,326.38 L426.60,326.45 L427.33,326.47 L428.07,326.45 L428.81,326.42 L429.56,326.40 L430.32,326.38 L431.08,326.32 L431.85,326.17 L432.61,326.00 L433.38,325.89 L434.16,325.86 L434.93,325.80 L435.70,325.71 L436.47,325.61 L437.23,325.54 L437.99,325.52 L438.75,325.48 L439.50,325.42 L440.25,325.35 L440.99,325.31 L441.72,325.35 L442.44,325.65 L443.14,326.04 L443.84,326.26 L444.53,326.24 L445.20,326.18 L445.86,326.10 L446.51,326.05 L447.13,326.05 L447.74,326.06 L448.34,326.08 L448.91,326.09 L449.47,326.11 L450.00,326.11 L451.05,325.96 L452.05,325.65 L453.02,325.49 L453.94,325.61 L454.82,325.90 L455.67,326.10 L456.48,326.13 L457.26,326.16 L458.00,326.20 L458.72,326.22 L459.40,326.23 L460.06,326.14 L460.69,325.95 L461.30,325.70 L461.88,325.47 L462.44,325.29 L462.99,325.20 L463.51,325.17 L464.02,325.13 L464.52,325.09 L465.00,325.04 L466.24,324.84 L467.16,324.56 L467.84,324.23 L468.38,323.90 L468.86,323.61 L469.37,323.43 L470.00,323.46 L470.71,323.72 L471.43,324.08 L472.14,324.44 L472.86,324.71 L473.57,324.88 L474.29,324.96 L475.00,324.98 L475.50,325.01 L475.70,325.09 L475.83,325.17 L476.11,325.24 L476.75,325.33 L477.97,325.64 L480.00,326.04 L480.42,326.03 L480.88,326.00 L481.37,325.95 L481.89,325.91 L482.44,325.88 L483.02,325.88 L483.62,325.79 L484.25,325.61 L484.90,325.44 L485.58,325.38 L486.27,325.55 L486.98,325.91 L487.71,326.28 L488.45,326.43 L489.21,326.45 L489.98,326.48 L490.76,326.52 L491.55,326.54 L492.35,326.48 L493.16,326.23 L493.97,325.95 L494.78,325.84 L495.60,325.93 L496.41,326.15 L497.23,326.39 L498.04,326.56 L498.85,326.59 L499.65,326.53 L500.45,326.46 L501.24,326.44 L502.01,326.21 L502.78,325.94 L503.53,325.86 L504.27,325.87 L504.99,325.86 L505.69,325.85 L506.38,325.85 L507.04,325.86 L507.69,325.94 L508.30,326.25 L508.90,326.64 L509.46,326.95 L510.00,327.09 L511.04,326.87 L512.01,326.41 L512.93,326.16 L513.79,326.21 L514.61,326.31 L515.38,326.40 L516.11,326.45 L516.81,326.45 L517.48,326.45 L518.12,326.44 L518.75,326.44 L519.36,326.46 L519.96,326.52 L520.56,326.60 L521.15,326.71 L521.75,326.82 L522.36,326.91 L522.99,326.98 L523.63,327.02 L524.30,327.14 L525.00,327.32 L525.70,327.52 L526.37,327.67 L527.01,327.75 L527.64,327.72 L528.25,327.55 L528.85,327.31 L529.44,327.12 L530.04,327.05 L530.64,327.05 L531.25,327.02 L531.88,326.97 L532.52,326.93 L533.19,326.92 L533.89,326.92 L534.62,326.90 L535.39,326.88 L536.21,326.86 L537.07,326.94 L537.99,327.52 L538.96,327.98 L540.00,327.87 L540.53,327.74 L541.08,327.60 L541.64,327.51 L542.22,327.49 L542.81,327.42 L543.41,327.32 L544.03,327.21 L544.66,327.12 L545.30,327.11 L545.95,327.29 L546.61,327.56 L547.28,327.75 L547.97,327.76 L548.66,327.76 L549.36,327.76 L550.06,327.76 L550.78,327.76 L551.50,327.75 L552.22,327.57 L552.96,327.18 L553.69,326.84 L554.43,326.80 L555.18,326.97 L555.93,327.26 L556.68,327.52 L557.43,327.63 L558.19,327.57 L558.94,327.45 L559.70,327.31 L560.45,327.23 L561.21,327.18 L561.96,327.05 L562.71,326.87 L563.46,326.71 L564.21,326.65 L564.95,326.64 L565.69,326.65 L566.42,326.67 L567.15,326.67 L567.87,326.66 L568.59,326.58 L569.30,326.47 L570.00,326.40 L570.68,326.46 L571.34,326.74 L571.98,327.12 L572.59,327.41 L573.18,327.50 L573.76,327.47 L574.32,327.40 L574.86,327.30 L575.40,327.22 L575.92,327.18 L576.43,327.18 L576.94,327.23 L577.44,327.31 L577.94,327.40 L578.44,327.49 L578.95,327.57 L579.45,327.63 L579.96,327.63 L580.48,327.54 L581.00,327.38 L581.54,327.19 L582.09,327.04 L582.65,326.99 L583.23,327.01 L583.83,327.03 L584.45,327.05 L585.10,327.07 L585.76,327.10 L586.46,327.19 L587.18,327.39 L587.93,327.62 L588.71,327.80 L589.53,327.87 L590.38,327.70 L591.28,327.40 L592.21,327.24 L593.18,327.31 L594.20,327.46 L595.26,327.56 L596.37,327.52 L597.53,327.32 L598.74,327.19 L600.00,327.19 L600.49,327.19 L600.98,327.19 L601.50,327.20 L602.02,327.26 L602.56,327.38 L603.11,327.50 L603.67,327.56 L604.24,327.53 L604.83,327.37 L605.42,327.16 L606.03,327.02 L606.65,327.00 L607.28,327.04 L607.92,327.11 L608.56,327.18 L609.22,327.24 L609.89,327.25 L610.57,327.28 L611.26,327.34 L611.95,327.41 L612.65,327.46 L613.37,327.49 L614.09,327.45 L614.81,327.36 L615.55,327.24 L616.29,327.13 L617.04,327.07 L617.80,327.13 L618.56,327.36 L619.33,327.64 L620.11,327.81 L620.89,327.84 L621.67,327.92 L622.47,327.99 L623.26,328.00 L624.06,327.92 L624.87,327.83 L625.68,327.79 L626.49,327.79 L627.31,327.80 L628.13,327.82 L628.96,327.83 L629.78,327.82 L630.61,327.59 L631.45,327.21 L632.28,326.97 L633.12,327.04 L633.96,327.37 L634.80,327.74 L635.64,327.92 L636.48,327.91 L637.32,327.90 L638.16,327.88 L639.01,327.88 L639.85,327.88 L640.69,327.89 L641.53,327.85 L642.38,327.55 L643.21,327.22 L644.05,327.17 L644.89,327.29 L645.73,327.48 L646.56,327.65 L647.39,327.73 L648.22,327.73 L649.04,327.74 L649.86,327.75 L650.68,327.75 L651.50,327.75 L652.31,327.72 L653.11,327.66 L653.92,327.59 L654.71,327.56 L655.51,327.52 L656.29,327.39 L657.08,327.27 L657.85,327.24 L658.62,327.33 L659.39,327.47 L660.15,327.56 L660.90,327.51 L661.64,327.37 L662.38,327.18 L663.11,327.04 L663.83,326.99 L664.54,327.17 L665.25,327.53 L665.95,327.79 L666.64,327.81 L667.32,327.73 L667.99,327.60 L668.65,327.46 L669.30,327.35 L669.94,327.31 L670.57,327.34 L671.19,327.42 L671.80,327.52 L672.40,327.61 L672.99,327.65 L673.56,327.64 L674.12,327.55 L674.68,327.41 L675.22,327.26 L675.74,327.15 L676.26,327.10 L676.76,327.09 L677.25,327.06 L677.72,327.01 L678.18,326.97 L678.63,326.94 L679.06,326.92 L679.48,326.92 L679.88,326.98 L680.27,327.07 L680.64,327.18 L681.00,327.20" fill="none" stroke="#262626" stroke-width="1.3" stroke-linejoin="round"/>
<path d="M92.00,480.43 L92.38,480.53 L92.85,480.72 L93.44,481.11 L94.15,481.71 L95.00,482.27 L96.00,482.52 L96.54,482.60 L97.14,482.67 L97.80,482.74 L98.50,482.83 L99.23,482.94 L99.99,483.04 L100.76,483.13 L101.53,483.23 L102.29,483.33 L103.03,483.43 L103.73,483.52 L104.39,483.60 L105.00,483.68 L105.79,483.75 L106.52,483.76 L107.19,483.76 L107.82,483.79 L108.43,483.86 L109.04,483.98 L109.66,484.14 L110.31,484.29 L111.00,484.42 L111.64,484.58 L112.26,484.79 L112.87,485.03 L113.49,485.28 L114.12,485.52 L114.79,485.74 L115.50,485.89 L116.26,485.92 L117.09,485.90 L118.00,485.95 L118.58,485.98 L119.19,485.95 L119.84,485.88 L120.52,485.84 L121.22,485.92 L121.95,486.13 L122.68,486.38 L123.43,486.50 L124.19,486.53 L124.95,486.55 L125.71,486.56 L126.46,486.59 L127.21,486.65 L127.94,486.71 L128.65,486.77 L129.34,486.81 L130.00,486.83 L130.79,486.79 L131.58,486.70 L132.37,486.60 L133.16,486.54 L133.94,486.54 L134.71,486.56 L135.47,486.57 L136.20,486.54 L136.92,486.54 L137.60,486.53 L138.26,486.47 L138.88,486.35 L139.46,486.22 L140.00,486.03 L141.08,485.42 L141.94,484.52 L142.66,483.50 L143.28,482.55 L143.87,481.83 L144.50,481.48 L145.21,481.64 L145.80,482.25 L146.40,483.07 L147.09,483.88 L148.00,484.55 L148.57,484.70 L149.21,484.81 L149.91,484.90 L150.64,484.96 L151.41,485.01 L152.18,485.05 L152.94,485.07 L153.67,485.04 L154.37,484.99 L155.00,484.97 L155.73,485.04 L156.28,485.20 L156.76,485.42 L157.26,485.69 L157.90,486.03 L158.78,486.42 L160.00,486.76 L160.50,486.80 L161.06,486.81 L161.66,486.78 L162.31,486.76 L162.99,486.77 L163.70,486.78 L164.44,486.73 L165.21,486.67 L165.99,486.64 L166.79,486.66 L167.59,486.70 L168.40,486.75 L169.20,486.79 L170.00,486.82 L170.79,486.85 L171.56,486.88 L172.31,486.90 L173.03,486.93 L173.73,486.96 L174.38,486.96 L175.00,486.95 L175.88,486.93 L176.73,486.93 L177.56,486.95 L178.37,487.07 L179.15,487.26 L179.90,487.44 L180.62,487.56 L181.33,487.60 L182.00,487.55 L182.65,487.46 L183.28,487.37 L183.88,487.30 L184.45,487.28 L185.00,487.28 L185.93,487.27 L186.65,487.23 L187.23,487.16 L187.77,487.05 L188.35,486.93 L189.07,486.72 L190.00,486.40 L190.57,486.25 L191.21,486.17 L191.90,486.20 L192.64,486.36 L193.41,486.54 L194.20,486.63 L195.00,486.66 L195.80,486.75 L196.59,486.79 L197.36,486.76 L198.10,486.71 L198.79,486.64 L199.43,486.54 L200.00,486.21 L200.98,485.83 L201.79,485.30 L202.49,484.68 L203.12,484.03 L203.72,483.40 L204.33,482.88 L205.00,482.61 L205.71,482.50 L206.43,482.66 L207.14,482.99 L207.86,483.39 L208.57,483.77 L209.29,484.05 L210.00,484.12 L210.70,483.96 L211.37,483.66 L212.04,483.31 L212.72,482.97 L213.43,482.71 L214.18,482.56 L215.00,482.50 L215.61,482.48 L216.26,482.50 L216.92,482.55 L217.61,482.63 L218.31,482.73 L219.03,482.83 L219.76,482.92 L220.50,483.08 L221.25,483.23 L222.00,483.32 L222.68,483.37 L223.37,483.43 L224.06,483.48 L224.75,483.52 L225.46,483.56 L226.17,483.56 L226.90,483.53 L227.65,483.52 L228.41,483.57 L229.19,483.61 L230.00,483.67 L230.65,483.75 L231.32,483.80 L232.01,483.78 L232.71,483.76 L233.42,483.83 L234.15,483.98 L234.88,484.10 L235.61,484.22 L236.35,484.35 L237.08,484.48 L237.82,484.68 L238.55,485.02 L239.28,485.41 L240.00,485.71 L240.72,485.85 L241.45,485.81 L242.18,485.66 L242.92,485.57 L243.65,485.65 L244.39,485.78 L245.12,485.94 L245.85,486.08 L246.58,486.20 L247.29,486.28 L247.99,486.28 L248.68,486.22 L249.35,486.13 L250.00,486.06 L250.82,486.03 L251.63,486.05 L252.43,486.08 L253.22,486.07 L254.00,486.01 L254.75,485.91 L255.47,485.78 L256.16,485.64 L256.82,485.50 L257.43,485.35 L258.00,485.39 L258.90,484.96 L259.63,484.37 L260.25,483.74 L260.81,483.15 L261.38,482.69 L262.00,482.22 L262.63,482.28 L263.22,482.55 L263.81,482.95 L264.44,483.41 L265.16,483.90 L266.00,484.51 L266.57,484.87 L267.18,485.13 L267.82,485.20 L268.49,485.10 L269.19,484.91 L269.91,484.82 L270.66,484.87 L271.42,484.95 L272.21,485.03 L273.00,485.07 L273.63,485.07 L274.28,485.16 L274.96,485.38 L275.65,485.54 L276.36,485.49 L277.08,485.15 L277.80,484.68 L278.52,484.38 L279.24,484.33 L279.95,484.41 L280.65,484.51 L281.34,484.53 L282.00,484.40 L282.77,484.13 L283.54,483.78 L284.31,483.42 L285.07,483.12 L285.82,482.87 L286.56,482.60 L287.28,482.32 L287.99,482.05 L288.68,481.85 L289.35,481.80 L290.00,481.80 L290.75,481.74 L291.47,481.51 L292.15,481.24 L292.80,480.98 L293.44,480.74 L294.07,480.50 L294.71,480.26 L295.34,480.02 L296.00,479.79 L296.66,479.59 L297.29,479.41 L297.93,479.26 L298.56,479.13 L299.20,478.96 L299.85,478.75 L300.53,478.50 L301.25,478.27 L302.00,478.07 L302.65,477.97 L303.33,477.91 L304.04,477.85 L304.76,477.75 L305.50,477.54 L306.25,477.19 L307.01,476.85 L307.76,476.64 L308.52,476.60 L309.27,476.70 L310.00,476.76 L310.73,476.67 L311.48,476.40 L312.24,476.05 L312.99,475.71 L313.75,475.45 L314.50,475.17 L315.24,474.88 L315.96,474.59 L316.67,474.31 L317.35,474.14 L318.00,473.85 L318.77,473.55 L319.51,473.16 L320.22,472.70 L320.91,472.23 L321.58,471.76 L322.22,471.31 L322.84,470.81 L323.43,470.27 L324.00,469.72 L324.81,468.98 L325.56,468.34 L326.25,467.68 L326.89,466.95 L327.47,466.08 L328.00,465.20 L328.81,462.63 L329.41,459.53 L330.00,455.80 L330.68,451.33 L331.36,446.23 L332.00,440.70 L332.87,431.84 L333.60,421.80 L334.50,397.30 L335.50,387.80 L336.14,374.17 L336.80,364.20 L337.39,370.74 L337.90,384.00 L338.50,414.20 L339.40,429.30 L340.00,442.50 L340.63,445.48 L341.50,446.30 L342.07,445.50 L342.74,443.88 L343.41,442.43 L344.00,442.20 L344.86,446.14 L345.70,452.00 L346.43,455.94 L347.23,460.04 L348.00,463.30 L348.69,465.16 L349.34,466.17 L350.00,467.01 L350.67,467.78 L351.33,468.33 L352.00,469.00 L352.65,470.16 L353.30,471.51 L354.00,472.80 L354.57,473.55 L355.16,474.23 L355.79,474.75 L356.50,475.03 L357.14,475.01 L357.83,474.87 L358.55,474.60 L359.28,474.20 L360.00,473.99 L360.72,473.56 L361.47,473.04 L362.21,472.60 L362.90,472.33 L363.50,472.40 L364.19,473.43 L364.70,475.11 L365.50,476.70 L366.10,477.12 L366.80,477.29 L367.56,477.25 L368.37,477.22 L369.19,477.38 L370.00,477.66 L370.67,477.93 L371.33,478.19 L372.00,478.45 L372.69,478.78 L373.41,479.12 L374.18,479.40 L375.00,479.59 L375.57,479.69 L376.10,479.78 L376.61,479.88 L377.13,479.99 L377.69,480.13 L378.31,480.25 L379.03,480.36 L379.86,480.46 L380.85,480.58 L382.00,480.89 L382.50,481.08 L383.03,481.29 L383.60,481.49 L384.19,481.64 L384.82,481.71 L385.46,481.69 L386.13,481.61 L386.83,481.50 L387.53,481.42 L388.26,481.42 L389.00,481.49 L389.74,481.59 L390.50,481.69 L391.26,481.76 L392.03,481.78 L392.79,481.76 L393.56,481.75 L394.32,481.78 L395.08,481.77 L395.83,481.74 L396.56,481.73 L397.29,481.77 L397.99,481.97 L398.68,482.28 L399.35,482.52 L400.00,482.59 L400.78,482.59 L401.55,482.56 L402.30,482.56 L403.04,482.63 L403.78,482.73 L404.50,482.84 L405.22,482.95 L405.93,483.05 L406.64,483.14 L407.34,483.30 L408.04,483.52 L408.73,483.73 L409.42,483.86 L410.11,483.82 L410.80,483.60 L411.49,483.35 L412.19,483.24 L412.88,483.31 L413.58,483.40 L414.29,483.50 L415.00,483.59 L415.71,483.67 L416.41,483.79 L417.10,484.07 L417.78,484.41 L418.46,484.65 L419.14,484.71 L419.81,484.63 L420.49,484.46 L421.17,484.28 L421.85,484.18 L422.53,484.21 L423.22,484.35 L423.92,484.53 L424.63,484.70 L425.35,484.80 L426.08,484.82 L426.83,484.80 L427.59,484.76 L428.38,484.75 L429.18,484.77 L430.00,484.76 L430.62,484.73 L431.26,484.72 L431.92,484.72 L432.61,484.78 L433.31,484.90 L434.03,485.03 L434.77,485.09 L435.51,485.07 L436.27,485.01 L437.03,484.93 L437.80,484.87 L438.57,484.84 L439.35,484.86 L440.12,484.89 L440.88,484.93 L441.64,484.96 L442.40,484.97 L443.14,484.99 L443.87,485.05 L444.59,485.10 L445.29,485.12 L445.96,485.12 L446.62,485.18 L447.26,485.27 L447.87,485.34 L448.45,485.36 L449.00,485.32 L449.52,485.19 L450.00,485.01 L451.22,484.50 L452.22,484.20 L453.02,483.89 L453.69,483.55 L454.25,483.21 L454.75,482.90 L455.24,482.66 L455.74,482.51 L456.32,482.47 L457.00,482.53 L457.66,482.64 L458.30,482.76 L458.92,482.92 L459.54,483.15 L460.17,483.40 L460.83,483.66 L461.53,483.92 L462.29,484.14 L463.11,484.31 L464.01,484.42 L465.00,484.46 L465.56,484.46 L466.16,484.45 L466.78,484.43 L467.42,484.38 L468.09,484.32 L468.78,484.21 L469.48,484.01 L470.20,483.79 L470.94,483.60 L471.69,483.49 L472.44,483.49 L473.20,483.54 L473.97,483.55 L474.74,483.45 L475.51,483.26 L476.28,483.04 L477.04,482.86 L477.80,482.79 L478.54,482.82 L479.28,482.89 L480.00,482.93 L480.70,482.89 L481.37,482.83 L482.01,482.76 L482.64,482.69 L483.25,482.62 L483.85,482.56 L484.44,482.49 L485.04,482.36 L485.64,482.17 L486.25,481.96 L486.88,481.77 L487.52,481.63 L488.19,481.59 L488.89,481.61 L489.62,481.66 L490.39,481.69 L491.21,481.67 L492.07,481.64 L492.99,481.61 L493.96,481.64 L495.00,481.83 L495.53,481.96 L496.08,482.07 L496.65,482.15 L497.24,482.18 L497.84,482.19 L498.45,482.18 L499.08,482.18 L499.73,482.19 L500.38,482.21 L501.05,482.15 L501.73,482.01 L502.42,481.89 L503.13,481.90 L503.84,481.91 L504.55,481.90 L505.28,481.89 L506.01,481.88 L506.75,481.91 L507.50,481.94 L508.24,481.97 L509.00,481.98 L509.75,482.02 L510.51,482.18 L511.27,482.58 L512.03,482.94 L512.79,483.03 L513.55,483.04 L514.31,483.02 L515.07,482.99 L515.82,482.99 L516.57,483.02 L517.31,482.97 L518.05,482.86 L518.79,482.81 L519.52,482.87 L520.24,483.03 L520.95,483.21 L521.65,483.32 L522.34,483.34 L523.02,483.33 L523.69,483.29 L524.35,483.25 L525.00,483.24 L525.77,483.25 L526.53,483.18 L527.31,483.08 L528.08,483.01 L528.85,483.04 L529.63,483.24 L530.40,483.56 L531.18,483.81 L531.95,483.89 L532.72,483.76 L533.49,483.51 L534.26,483.24 L535.02,483.07 L535.78,483.07 L536.53,483.22 L537.28,483.44 L538.02,483.62 L538.75,483.67 L539.48,483.71 L540.19,483.78 L540.90,483.84 L541.60,483.86 L542.29,483.83 L542.96,483.77 L543.63,483.72 L544.28,483.69 L544.92,483.71 L545.55,483.78 L546.16,483.88 L546.76,483.98 L547.34,484.05 L547.91,484.07 L548.46,484.05 L548.99,484.00 L549.50,483.94 L550.00,483.89 L551.16,483.89 L552.15,484.00 L552.99,484.10 L553.72,484.26 L554.35,484.47 L554.92,484.72 L555.44,484.99 L555.94,485.23 L556.45,485.44 L557.00,485.59 L557.60,485.69 L558.28,485.71 L559.07,485.69 L560.00,485.68 L560.56,485.71 L561.15,485.77 L561.78,485.85 L562.44,485.93 L563.12,485.96 L563.83,485.94 L564.56,485.96 L565.31,486.00 L566.07,486.00 L566.84,485.95 L567.62,485.89 L568.40,485.82 L569.19,485.76 L569.97,485.69 L570.75,485.63 L571.51,485.64 L572.27,485.67 L573.01,485.68 L573.73,485.63 L574.43,485.54 L575.11,485.42 L575.76,485.32 L576.37,485.27 L576.95,485.25 L577.50,485.25 L578.00,485.25 L578.93,485.31 L579.34,485.42 L579.40,485.56 L579.29,485.73 L579.19,485.92 L579.27,486.11 L579.72,486.31 L580.70,486.42 L582.41,486.23 L585.00,486.29 L585.40,486.33 L585.83,486.38 L586.28,486.42 L586.74,486.45 L587.23,486.47 L587.74,486.54 L588.27,486.65 L588.81,486.80 L589.38,486.95 L589.96,487.07 L590.56,487.11 L591.17,487.03 L591.80,486.82 L592.45,486.55 L593.11,486.31 L593.78,486.20 L594.47,486.27 L595.17,486.47 L595.89,486.73 L596.61,486.91 L597.35,486.95 L598.10,486.95 L598.85,486.95 L599.62,486.94 L600.40,486.94 L601.18,486.93 L601.97,486.82 L602.77,486.63 L603.58,486.44 L604.39,486.35 L605.21,486.40 L606.03,486.59 L606.86,486.83 L607.69,487.03 L608.53,487.10 L609.37,487.14 L610.21,487.21 L611.05,487.28 L611.89,487.31 L612.73,487.21 L613.58,486.98 L614.42,486.72 L615.26,486.55 L616.10,486.56 L616.94,486.72 L617.77,486.96 L618.60,487.15 L619.43,487.23 L620.25,487.23 L621.07,487.22 L621.88,487.22 L622.69,487.18 L623.49,487.02 L624.28,486.82 L625.06,486.70 L625.84,486.68 L626.60,486.68 L627.36,486.66 L628.10,486.65 L628.84,486.64 L629.56,486.66 L630.27,486.73 L630.97,486.82 L631.66,486.91 L632.33,486.95 L632.99,486.96 L633.63,487.00 L634.26,487.04 L634.87,487.08 L635.47,487.08 L636.05,487.03 L636.61,486.95 L637.15,486.85 L637.68,486.77 L638.18,486.72 L638.67,486.71 L639.13,486.70 L639.58,486.68 L640.00,486.66 L642.05,486.55 L643.61,486.70 L644.74,486.83 L645.52,486.77 L646.03,486.70 L646.33,486.62 L646.50,486.53 L646.61,486.44 L646.72,486.35 L646.92,486.27 L647.28,486.22 L647.86,486.20 L648.75,486.17 L650.00,486.10 L650.48,486.06 L651.00,486.03 L651.56,486.01 L652.15,486.00 L652.76,486.00 L653.41,485.98 L654.08,485.95 L654.78,485.93 L655.50,485.93 L656.24,485.97 L657.00,486.05 L657.78,486.14 L658.57,486.18 L659.38,486.07 L660.20,485.89 L661.03,485.84 L661.87,485.88 L662.71,485.94 L663.56,486.00 L664.42,486.05 L665.27,486.15 L666.12,486.37 L666.98,486.62 L667.82,486.78 L668.66,486.81 L669.49,486.80 L670.32,486.79 L671.13,486.80 L671.92,486.85 L672.70,486.93 L673.47,487.02 L674.21,487.10 L674.94,487.13 L675.64,487.00 L676.32,486.75 L676.97,486.57 L677.59,486.54 L678.18,486.61 L678.74,486.70 L679.27,486.81 L679.76,486.89 L680.21,486.93 L680.63,486.95 L681.00,487.00" fill="none" stroke="#262626" stroke-width="1.3" stroke-linejoin="round"/>
<path d="M92.00,630.92 L92.44,631.32 L93.04,631.91 L93.75,632.62 L94.52,633.36 L95.29,634.03 L96.00,634.53 L96.64,634.82 L97.26,635.03 L97.88,635.26 L98.52,635.57 L99.22,635.94 L100.00,636.39 L100.58,636.76 L101.20,637.16 L101.85,637.59 L102.53,638.10 L103.22,638.70 L103.93,639.25 L104.63,639.68 L105.32,640.00 L106.00,640.50 L106.66,640.66 L107.29,640.79 L107.93,640.91 L108.56,640.96 L109.20,640.97 L109.85,640.97 L110.53,640.99 L111.25,641.07 L112.00,641.16 L112.66,641.25 L113.35,641.34 L114.06,641.41 L114.80,641.46 L115.56,641.51 L116.32,641.56 L117.08,641.63 L117.84,641.73 L118.58,641.87 L119.30,642.03 L120.00,642.19 L120.75,642.35 L121.48,642.55 L122.20,642.79 L122.92,643.03 L123.62,643.23 L124.32,643.31 L125.00,643.31 L125.68,643.27 L126.34,643.26 L127.00,643.30 L127.71,643.46 L128.38,643.57 L129.04,643.47 L129.68,643.19 L130.32,642.85 L130.96,642.51 L131.62,642.21 L132.29,641.99 L133.00,641.86 L133.65,641.81 L134.29,641.80 L134.93,641.83 L135.58,641.88 L136.25,641.95 L136.94,641.98 L137.65,641.97 L138.39,641.92 L139.17,641.88 L140.00,641.87 L140.63,641.89 L141.31,641.91 L142.03,641.94 L142.78,641.97 L143.56,641.98 L144.34,642.03 L145.12,642.16 L145.91,642.32 L146.67,642.44 L147.42,642.47 L148.13,642.31 L148.81,641.93 L149.43,641.56 L150.00,641.36 L150.98,641.38 L151.79,641.48 L152.49,641.35 L153.12,640.97 L153.72,640.54 L154.33,640.17 L155.00,639.93 L155.67,639.94 L156.28,640.16 L156.88,640.45 L157.51,640.78 L158.21,641.11 L159.02,641.40 L160.00,641.54 L160.56,641.54 L161.17,641.53 L161.81,641.52 L162.49,641.55 L163.20,641.61 L163.94,641.69 L164.69,641.73 L165.45,641.71 L166.22,641.70 L167.00,641.70 L167.77,641.71 L168.53,641.71 L169.27,641.71 L170.00,641.75 L170.73,641.82 L171.47,641.89 L172.23,641.95 L173.00,641.98 L173.78,641.97 L174.55,641.94 L175.31,641.90 L176.06,641.88 L176.80,641.89 L177.51,641.97 L178.19,642.10 L178.83,642.24 L179.44,642.35 L180.00,642.43 L180.93,642.67 L181.65,642.98 L182.23,643.33 L182.77,643.69 L183.35,644.02 L184.07,644.27 L185.00,644.38 L185.57,644.39 L186.21,644.39 L186.90,644.43 L187.64,644.49 L188.41,644.58 L189.20,644.64 L190.00,644.61 L190.80,644.43 L191.59,644.17 L192.36,643.98 L193.10,643.93 L193.79,644.09 L194.43,644.30 L195.00,644.40 L195.93,644.19 L196.65,643.76 L197.23,643.25 L197.77,642.73 L198.35,642.22 L199.07,641.79 L200.00,641.54 L200.57,641.49 L201.21,641.49 L201.90,641.50 L202.64,641.48 L203.41,641.39 L204.20,641.26 L205.00,641.12 L205.80,641.01 L206.59,641.03 L207.36,641.13 L208.10,641.23 L208.79,641.23 L209.43,641.11 L210.00,640.69 L210.99,640.17 L211.85,639.60 L212.60,639.02 L213.26,638.44 L213.86,637.89 L214.43,637.44 L215.00,637.30 L215.87,637.19 L216.56,637.36 L217.23,637.65 L218.00,637.91 L218.56,638.08 L219.11,638.33 L219.69,638.62 L220.33,638.89 L221.09,639.14 L222.00,639.28 L222.59,639.26 L223.25,639.18 L223.97,639.08 L224.74,638.96 L225.53,638.89 L226.34,638.93 L227.14,638.97 L227.93,638.87 L228.67,638.59 L229.37,638.30 L230.00,638.14 L230.85,638.09 L231.59,638.11 L232.25,638.12 L232.87,638.08 L233.51,637.98 L234.21,637.77 L235.00,637.59 L235.64,637.62 L236.34,637.87 L237.08,638.23 L237.85,638.66 L238.62,639.10 L239.39,639.51 L240.13,639.91 L240.82,640.38 L241.45,640.85 L242.00,641.13 L242.94,641.72 L243.50,642.13 L244.06,642.43 L245.00,642.71 L245.54,642.69 L246.16,642.71 L246.84,642.82 L247.56,642.98 L248.31,643.16 L249.08,643.32 L249.85,643.41 L250.60,643.44 L251.32,643.43 L252.00,643.40 L252.72,643.33 L253.42,643.25 L254.11,643.22 L254.79,643.21 L255.46,643.18 L256.11,643.09 L256.75,642.90 L257.38,642.61 L258.00,642.25 L258.77,641.77 L259.50,641.36 L260.21,641.02 L260.91,640.64 L261.60,640.25 L262.29,639.89 L263.00,639.59 L263.72,639.40 L264.46,639.44 L265.20,639.56 L265.93,639.56 L266.64,639.37 L267.34,639.10 L268.00,638.85 L268.72,638.70 L269.41,638.75 L270.06,638.86 L270.70,638.94 L271.34,638.96 L272.00,638.89 L272.67,638.66 L273.33,638.29 L274.00,637.85 L274.67,637.40 L275.33,636.99 L276.00,636.87 L276.66,636.47 L277.30,636.01 L277.94,635.47 L278.59,634.83 L279.28,634.13 L280.00,633.38 L280.68,632.69 L281.41,631.95 L282.18,631.18 L282.94,630.40 L283.69,629.60 L284.38,628.79 L285.00,627.90 L285.91,626.53 L286.69,625.16 L287.37,623.80 L288.00,622.50 L288.70,620.85 L289.30,619.27 L290.00,617.55 L290.68,616.50 L291.44,615.65 L292.23,614.92 L293.00,614.10 L293.77,613.14 L294.56,612.14 L295.32,611.09 L296.00,610.10 L296.74,608.36 L297.37,606.55 L298.00,605.39 L298.63,605.86 L299.26,607.09 L300.00,607.85 L300.68,607.64 L301.44,607.03 L302.23,606.35 L303.00,605.84 L303.73,605.82 L304.44,606.00 L305.18,606.17 L306.00,606.14 L306.62,605.97 L307.30,605.71 L308.00,605.38 L308.70,605.00 L309.38,604.60 L310.00,604.31 L310.83,603.67 L311.59,602.93 L312.31,602.05 L313.00,600.90 L313.68,599.90 L314.34,598.86 L314.96,597.69 L315.50,596.30 L316.30,592.50 L317.00,588.60 L317.86,585.13 L318.70,583.20 L319.35,584.96 L320.00,587.80 L320.77,589.90 L321.70,591.15 L322.25,590.64 L322.84,589.55 L323.51,588.32 L324.30,587.24 L324.92,587.02 L325.61,587.03 L326.34,587.08 L327.10,586.97 L327.86,586.56 L328.60,585.87 L329.34,585.12 L330.10,584.35 L330.86,583.55 L331.59,582.62 L332.28,581.45 L332.90,579.80 L333.69,577.05 L334.36,573.77 L334.95,570.31 L335.50,567.00 L336.46,560.48 L337.20,554.90 L338.10,549.70 L338.69,551.96 L339.30,556.60 L340.30,570.40 L340.86,580.39 L341.50,589.30 L342.21,592.81 L343.20,594.56 L343.81,595.33 L344.56,596.05 L345.34,596.85 L346.09,597.76 L346.70,598.80 L347.63,601.59 L348.40,604.80 L349.04,607.40 L349.73,610.18 L350.60,612.67 L351.24,613.57 L351.94,614.18 L352.70,614.65 L353.52,615.14 L354.40,615.83 L355.07,616.52 L355.79,617.30 L356.54,618.05 L357.30,618.72 L358.08,619.36 L358.85,619.95 L359.60,620.48 L360.32,620.94 L361.01,621.28 L361.70,621.52 L362.39,621.72 L363.11,621.99 L363.88,622.38 L364.70,622.90 L365.32,623.39 L365.96,623.76 L366.64,623.95 L367.33,624.02 L368.04,624.07 L368.75,624.22 L369.47,624.47 L370.19,624.75 L370.90,625.03 L371.60,625.30 L372.29,625.58 L372.99,625.98 L373.70,626.45 L374.40,626.88 L375.11,627.19 L375.80,627.22 L376.50,627.05 L377.18,626.96 L377.85,627.15 L378.50,627.53 L379.22,628.06 L379.93,628.65 L380.63,629.19 L381.32,629.60 L382.00,629.88 L382.66,630.09 L383.30,630.26 L383.91,630.42 L384.50,630.60 L385.28,631.01 L385.96,631.49 L386.59,632.00 L387.24,632.52 L387.95,633.01 L388.80,633.67 L389.40,633.89 L390.06,634.02 L390.76,634.08 L391.50,634.11 L392.25,634.19 L393.00,634.28 L393.74,634.35 L394.44,634.42 L395.10,634.50 L395.70,634.60 L396.50,634.76 L397.11,634.86 L397.66,634.94 L398.24,635.01 L398.98,635.10 L400.00,635.23 L400.53,635.27 L401.09,635.31 L401.68,635.35 L402.30,635.41 L402.95,635.56 L403.62,635.79 L404.33,635.97 L405.07,636.04 L405.83,636.16 L406.61,636.30 L407.42,636.37 L408.26,636.41 L409.12,636.47 L410.00,636.48 L410.60,636.47 L411.21,636.45 L411.84,636.42 L412.47,636.39 L413.12,636.35 L413.78,636.30 L414.44,636.24 L415.12,636.18 L415.82,636.11 L416.52,636.04 L417.23,635.98 L417.96,635.82 L418.70,635.46 L419.44,635.03 L420.20,634.71 L420.98,634.62 L421.76,634.61 L422.55,634.63 L423.36,634.64 L424.17,634.63 L425.00,634.71 L425.61,634.87 L426.24,635.04 L426.89,635.14 L427.54,635.11 L428.21,635.03 L428.90,634.92 L429.59,634.82 L430.29,634.77 L431.00,634.77 L431.72,634.81 L432.44,634.87 L433.17,634.92 L433.90,634.95 L434.63,634.93 L435.37,634.81 L436.10,634.64 L436.83,634.53 L437.56,634.52 L438.28,634.57 L439.00,634.65 L439.71,634.73 L440.41,634.80 L441.10,634.83 L441.79,634.82 L442.46,634.81 L443.11,634.79 L443.76,634.78 L444.39,634.79 L445.00,634.83 L445.82,634.97 L446.62,635.12 L447.41,635.23 L448.17,635.25 L448.92,635.22 L449.65,635.18 L450.37,635.18 L451.08,635.24 L451.78,635.44 L452.47,635.75 L453.15,636.12 L453.83,636.46 L454.51,636.68 L455.19,636.80 L455.86,636.89 L456.54,636.96 L457.22,637.04 L457.90,637.12 L458.59,637.21 L459.29,637.23 L460.00,637.21 L460.71,637.24 L461.43,637.28 L462.14,637.22 L462.86,637.11 L463.57,637.01 L464.29,636.99 L465.00,637.08 L465.71,637.25 L466.43,637.43 L467.14,637.58 L467.86,637.68 L468.57,637.80 L469.29,637.93 L470.00,638.06 L470.71,638.14 L471.43,638.26 L472.14,638.44 L472.86,638.64 L473.57,638.76 L474.29,638.73 L475.00,638.41 L475.72,638.08 L476.45,638.01 L477.19,638.04 L477.93,638.08 L478.68,638.11 L479.43,638.24 L480.19,638.67 L480.94,639.04 L481.69,639.07 L482.44,638.86 L483.18,638.53 L483.92,638.19 L484.65,637.95 L485.37,637.88 L486.08,637.89 L486.77,637.94 L487.45,637.97 L488.12,637.96 L488.77,637.91 L489.39,637.86 L490.00,637.81 L490.87,637.70 L491.69,637.57 L492.47,637.47 L493.22,637.37 L493.94,637.25 L494.64,637.07 L495.31,636.80 L495.98,636.45 L496.63,636.09 L497.29,635.81 L497.95,635.63 L498.62,635.47 L499.30,635.34 L500.00,635.26 L500.70,635.23 L501.38,635.34 L502.05,635.58 L502.71,635.86 L503.37,636.10 L504.02,636.23 L504.69,636.21 L505.36,636.08 L506.06,635.95 L506.78,635.95 L507.53,636.11 L508.31,636.36 L509.13,636.57 L510.00,636.67 L510.61,636.79 L511.25,636.95 L511.92,637.10 L512.62,637.20 L513.33,637.21 L514.07,637.22 L514.81,637.23 L515.57,637.23 L516.34,637.20 L517.11,637.09 L517.89,636.93 L518.66,636.80 L519.43,636.76 L520.19,636.77 L520.93,636.81 L521.67,636.84 L522.38,636.86 L523.08,636.88 L523.75,636.88 L524.39,636.89 L525.00,636.92 L525.87,636.99 L526.69,637.11 L527.47,637.24 L528.22,637.40 L528.94,637.56 L529.64,637.72 L530.31,637.90 L530.98,638.10 L531.63,638.28 L532.29,638.44 L532.95,638.52 L533.62,638.51 L534.30,638.46 L535.00,638.43 L535.73,638.47 L536.47,638.62 L537.23,638.83 L538.00,639.03 L538.78,639.14 L539.55,639.25 L540.31,639.45 L541.06,639.67 L541.80,639.84 L542.51,639.92 L543.19,639.94 L543.83,639.95 L544.44,639.96 L545.00,639.98 L545.93,639.99 L546.65,639.86 L547.23,639.68 L547.77,639.50 L548.35,639.36 L549.07,639.32 L550.00,639.39 L550.56,639.42 L551.17,639.47 L551.81,639.55 L552.49,639.67 L553.20,639.89 L553.94,640.20 L554.69,640.55 L555.45,640.84 L556.22,641.02 L557.00,641.17 L557.77,641.33 L558.53,641.48 L559.27,641.59 L560.00,641.65 L560.72,641.67 L561.45,641.67 L562.18,641.64 L562.92,641.61 L563.65,641.57 L564.39,641.37 L565.12,641.07 L565.85,640.79 L566.58,640.64 L567.29,640.57 L567.99,640.47 L568.68,640.37 L569.35,640.28 L570.00,640.21 L570.82,640.35 L571.65,640.71 L572.47,640.89 L573.29,640.66 L574.08,640.18 L574.85,639.82 L575.58,639.78 L576.27,640.00 L576.91,640.21 L577.49,640.22 L578.00,639.80 L579.01,638.86 L579.59,637.80 L580.00,636.93 L580.50,636.51 L580.90,636.69 L581.16,637.26 L581.71,637.96 L583.00,638.32 L583.45,638.44 L583.96,638.54 L584.51,638.65 L585.11,638.84 L585.74,639.08 L586.41,639.35 L587.11,639.58 L587.84,639.71 L588.60,639.83 L589.37,639.99 L590.16,640.18 L590.96,640.34 L591.77,640.43 L592.58,640.47 L593.39,640.48 L594.20,640.50 L595.00,640.56 L595.64,640.62 L596.29,640.67 L596.94,640.72 L597.60,640.79 L598.26,640.85 L598.92,640.90 L599.59,640.96 L600.27,641.02 L600.96,641.09 L601.65,641.17 L602.35,641.26 L603.06,641.33 L603.79,641.34 L604.52,641.22 L605.26,641.04 L606.02,640.88 L606.79,640.81 L607.57,640.90 L608.36,641.16 L609.17,641.45 L610.00,641.58 L610.61,641.57 L611.23,641.51 L611.86,641.43 L612.50,641.35 L613.15,641.29 L613.81,641.28 L614.48,641.29 L615.16,641.30 L615.84,641.31 L616.53,641.32 L617.22,641.41 L617.92,641.58 L618.62,641.77 L619.33,641.89 L620.04,641.90 L620.76,641.79 L621.47,641.62 L622.19,641.47 L622.91,641.43 L623.63,641.42 L624.34,641.41 L625.06,641.40 L625.78,641.40 L626.49,641.36 L627.20,641.26 L627.91,641.15 L628.61,641.09 L629.31,641.14 L630.00,641.40 L630.69,641.76 L631.39,642.08 L632.09,642.20 L632.80,642.18 L633.51,642.11 L634.22,642.03 L634.94,642.00 L635.66,642.01 L636.37,642.01 L637.09,642.00 L637.81,642.01 L638.53,642.03 L639.24,642.05 L639.96,642.06 L640.67,642.08 L641.38,642.09 L642.08,642.09 L642.78,642.04 L643.47,641.98 L644.16,641.95 L644.84,641.95 L645.52,642.04 L646.19,642.19 L646.85,642.34 L647.50,642.45 L648.14,642.48 L648.77,642.32 L649.39,641.99 L650.00,641.67 L650.82,641.50 L651.62,641.63 L652.40,641.91 L653.15,642.18 L653.90,642.34 L654.62,642.31 L655.33,642.15 L656.03,641.91 L656.73,641.69 L657.41,641.57 L658.09,641.49 L658.76,641.38 L659.44,641.24 L660.11,641.10 L660.79,641.01 L661.47,640.96 L662.15,640.93 L662.85,640.90 L663.55,640.88 L664.27,640.86 L665.00,640.87 L665.69,640.91 L666.41,640.95 L667.16,640.96 L667.92,641.03 L668.71,641.22 L669.51,641.40 L670.31,641.44 L671.12,641.37 L671.93,641.25 L672.74,641.12 L673.54,641.06 L674.33,641.07 L675.10,641.12 L675.85,641.19 L676.58,641.25 L677.28,641.29 L677.94,641.32 L678.57,641.37 L679.15,641.43 L679.69,641.50 L680.19,641.55 L680.62,641.58 L681.00,641.50" fill="none" stroke="#262626" stroke-width="1.3" stroke-linejoin="round"/>
<path d="M92.00,796.98 L92.37,796.95 L92.79,796.91 L93.25,796.87 L93.76,796.85 L94.30,796.89 L94.88,797.03 L95.50,797.27 L96.15,797.51 L96.82,797.68 L97.52,797.72 L98.24,797.74 L98.99,797.74 L99.75,797.75 L100.53,797.76 L101.31,797.78 L102.11,797.75 L102.92,797.71 L103.72,797.73 L104.53,797.68 L105.34,797.58 L106.14,797.54 L106.94,797.57 L107.73,797.61 L108.50,797.64 L109.26,797.67 L110.00,797.76 L110.66,797.89 L111.32,798.03 L111.99,798.14 L112.66,798.19 L113.33,798.20 L114.01,798.20 L114.69,798.20 L115.37,798.19 L116.06,798.19 L116.75,798.18 L117.44,798.08 L118.13,797.92 L118.83,797.80 L119.53,797.79 L120.22,797.85 L120.92,797.94 L121.62,798.03 L122.32,798.08 L123.03,798.08 L123.73,798.09 L124.43,798.10 L125.13,798.12 L125.83,798.13 L126.53,798.11 L127.22,798.04 L127.92,797.93 L128.62,797.84 L129.31,797.81 L130.00,797.77 L130.70,797.71 L131.40,797.66 L132.12,797.61 L132.84,797.57 L133.57,797.53 L134.31,797.47 L135.05,797.43 L135.79,797.45 L136.54,797.57 L137.29,797.64 L138.03,797.59 L138.78,797.48 L139.52,797.34 L140.26,797.20 L140.99,797.09 L141.72,797.04 L142.44,797.07 L143.14,797.12 L143.84,797.15 L144.53,797.12 L145.21,797.06 L145.87,797.01 L146.51,796.95 L147.14,796.90 L147.75,796.86 L148.35,796.79 L148.92,796.69 L149.47,796.59 L150.00,796.49 L151.02,796.35 L151.95,796.28 L152.80,796.25 L153.59,796.22 L154.31,796.18 L154.99,796.10 L155.62,795.97 L156.24,795.82 L156.84,795.69 L157.43,795.62 L158.04,795.64 L158.66,795.75 L159.31,795.91 L160.00,796.03 L160.73,796.01 L161.47,795.79 L162.23,795.52 L163.00,795.45 L163.78,795.50 L164.55,795.59 L165.31,795.67 L166.06,795.73 L166.80,795.77 L167.51,795.83 L168.19,795.90 L168.83,795.95 L169.44,795.98 L170.00,796.01 L170.93,796.15 L171.65,796.23 L172.23,796.21 L172.77,796.13 L173.35,795.97 L174.07,795.76 L175.00,795.63 L175.55,795.68 L176.12,795.79 L176.72,795.93 L177.35,796.07 L178.00,796.19 L178.67,796.26 L179.38,796.30 L180.10,796.34 L180.85,796.43 L181.63,796.54 L182.44,796.63 L183.27,796.71 L184.12,796.79 L185.00,796.90 L185.61,797.05 L186.25,797.22 L186.91,797.38 L187.59,797.46 L188.29,797.38 L189.01,797.14 L189.74,796.92 L190.48,796.91 L191.24,797.09 L191.99,797.34 L192.76,797.50 L193.52,797.49 L194.28,797.39 L195.04,797.25 L195.79,797.15 L196.53,797.12 L197.26,797.11 L197.97,797.09 L198.67,797.07 L199.35,797.05 L200.00,797.03 L200.78,796.97 L201.54,796.89 L202.28,796.83 L203.01,796.82 L203.72,796.92 L204.42,797.06 L205.11,797.17 L205.79,797.18 L206.46,797.10 L207.14,797.00 L207.81,796.90 L208.49,796.81 L209.17,796.72 L209.86,796.67 L210.56,796.58 L211.27,796.43 L212.00,796.26 L212.66,796.12 L213.32,796.04 L213.98,796.04 L214.64,796.21 L215.30,796.49 L215.96,796.77 L216.63,796.90 L217.30,796.90 L217.97,796.85 L218.65,796.77 L219.33,796.70 L220.02,796.69 L220.71,796.74 L221.41,796.81 L222.11,796.91 L222.82,797.01 L223.54,797.09 L224.27,797.15 L225.00,797.17 L225.67,797.15 L226.35,797.12 L227.04,797.11 L227.73,797.14 L228.43,797.20 L229.14,797.31 L229.85,797.42 L230.57,797.50 L231.29,797.55 L232.01,797.60 L232.74,797.64 L233.47,797.69 L234.20,797.74 L234.93,797.79 L235.66,797.82 L236.39,797.86 L237.11,797.89 L237.84,797.88 L238.56,797.80 L239.28,797.74 L240.00,797.77 L240.72,797.96 L241.45,798.19 L242.19,798.30 L242.93,798.22 L243.68,798.05 L244.43,797.87 L245.19,797.77 L245.94,797.82 L246.69,798.01 L247.44,798.14 L248.18,798.09 L248.92,797.87 L249.65,797.59 L250.37,797.36 L251.08,797.26 L251.77,797.17 L252.45,797.07 L253.12,796.98 L253.77,796.96 L254.39,797.05 L255.00,797.18 L255.87,797.29 L256.69,797.17 L257.47,796.92 L258.22,796.71 L258.94,796.65 L259.64,796.65 L260.31,796.68 L260.98,796.69 L261.63,796.68 L262.29,796.63 L262.95,796.55 L263.62,796.46 L264.30,796.34 L265.00,796.21 L265.73,796.07 L266.47,795.97 L267.23,795.97 L268.00,795.99 L268.78,795.93 L269.55,795.76 L270.31,795.61 L271.06,795.47 L271.80,795.31 L272.51,795.08 L273.19,794.75 L273.83,794.36 L274.44,794.00 L275.00,793.80 L275.99,793.42 L276.82,793.06 L277.55,792.70 L278.19,792.34 L278.79,791.94 L279.38,791.49 L280.00,790.96 L280.74,790.21 L281.44,789.33 L282.12,788.38 L282.78,787.40 L283.40,786.39 L284.00,785.30 L284.82,783.54 L285.56,781.61 L286.27,779.78 L287.00,778.25 L287.73,777.07 L288.44,776.21 L289.18,775.65 L290.00,775.22 L290.59,775.19 L291.19,775.26 L291.81,775.42 L292.48,775.66 L293.21,775.99 L294.00,776.49 L294.58,776.82 L295.20,777.23 L295.85,777.70 L296.53,778.20 L297.22,778.71 L297.93,779.23 L298.63,779.78 L299.32,780.33 L300.00,780.92 L300.68,781.22 L301.37,781.48 L302.07,781.71 L302.78,781.91 L303.47,782.06 L304.15,782.16 L304.80,782.20 L305.42,782.19 L306.00,781.96 L306.78,781.85 L307.48,781.68 L308.12,781.40 L308.74,780.98 L309.36,780.36 L310.00,779.40 L310.68,778.29 L311.37,776.94 L312.06,775.41 L312.74,773.72 L313.39,771.94 L314.00,770.10 L314.82,767.21 L315.56,764.09 L316.27,760.75 L317.00,757.20 L317.75,753.06 L318.51,748.46 L319.26,744.15 L320.00,741.06 L320.75,739.14 L321.51,738.10 L322.23,737.62 L322.90,737.37 L323.66,737.41 L324.34,738.08 L325.00,739.30 L325.64,741.18 L326.26,743.55 L327.00,745.72 L327.68,746.63 L328.44,747.23 L329.23,747.92 L330.00,749.00 L330.73,750.90 L331.44,753.26 L332.18,755.83 L333.00,758.40 L333.61,760.09 L334.26,761.82 L334.94,763.58 L335.63,765.36 L336.32,767.14 L337.00,768.90 L337.67,770.70 L338.33,772.57 L339.00,774.44 L339.67,776.24 L340.33,777.92 L341.00,779.58 L341.66,780.87 L342.30,782.02 L342.94,783.05 L343.59,783.96 L344.28,784.76 L345.00,785.63 L345.66,786.10 L346.36,786.46 L347.07,786.75 L347.80,787.01 L348.54,787.30 L349.28,787.61 L350.00,787.91 L350.70,788.17 L351.37,788.41 L352.04,788.64 L352.72,788.84 L353.43,788.95 L354.18,788.89 L355.00,788.70 L355.62,788.56 L356.29,788.50 L356.98,788.56 L357.70,788.72 L358.44,788.86 L359.18,788.87 L359.91,788.81 L360.63,788.74 L361.33,788.64 L362.00,788.40 L362.72,788.17 L363.42,787.85 L364.11,787.47 L364.79,787.06 L365.46,786.64 L366.11,786.24 L366.75,785.89 L367.38,785.64 L368.00,785.54 L368.78,785.22 L369.53,784.76 L370.27,784.29 L370.98,783.86 L371.67,783.51 L372.35,783.26 L373.00,783.03 L373.71,783.11 L374.37,783.34 L375.00,783.72 L375.63,784.21 L376.29,784.79 L377.00,785.45 L377.64,786.13 L378.27,786.95 L378.92,787.86 L379.59,788.80 L380.32,789.71 L381.12,790.54 L382.00,791.32 L382.61,791.64 L383.24,791.94 L383.91,792.26 L384.60,792.59 L385.32,792.91 L386.06,793.18 L386.82,793.38 L387.59,793.51 L388.38,793.60 L389.19,793.71 L390.00,793.88 L390.65,793.99 L391.32,794.04 L392.01,794.08 L392.71,794.15 L393.42,794.29 L394.15,794.57 L394.88,794.90 L395.61,795.11 L396.35,795.25 L397.08,795.43 L397.82,795.60 L398.55,795.73 L399.28,795.79 L400.00,795.72 L400.71,795.60 L401.43,795.49 L402.14,795.48 L402.86,795.60 L403.57,795.80 L404.29,796.00 L405.00,796.11 L405.71,796.08 L406.43,795.92 L407.14,795.71 L407.86,795.54 L408.57,795.49 L409.29,795.54 L410.00,795.67 L410.71,795.81 L411.43,795.87 L412.14,795.82 L412.86,795.66 L413.57,795.44 L414.29,795.23 L415.00,795.09 L415.71,795.00 L416.43,794.94 L417.14,794.87 L417.86,794.76 L418.57,794.57 L419.29,794.32 L420.00,794.12 L420.71,794.05 L421.43,794.13 L422.14,794.30 L422.86,794.49 L423.57,794.59 L424.29,794.53 L425.00,794.29 L425.71,794.05 L426.43,794.01 L427.14,794.14 L427.86,794.36 L428.57,794.59 L429.29,794.75 L430.00,794.80 L430.73,794.76 L431.47,794.70 L432.23,794.66 L433.00,794.71 L433.78,794.83 L434.55,795.00 L435.31,795.17 L436.06,795.31 L436.80,795.40 L437.51,795.49 L438.19,795.57 L438.83,795.62 L439.44,795.61 L440.00,795.50 L440.93,795.11 L441.65,794.71 L442.23,794.36 L442.77,794.00 L443.35,793.69 L444.07,793.48 L445.00,793.43 L445.55,793.47 L446.12,793.53 L446.72,793.60 L447.35,793.68 L448.00,793.78 L448.67,793.91 L449.38,794.08 L450.10,794.27 L450.85,794.46 L451.63,794.65 L452.44,794.83 L453.27,794.99 L454.12,795.21 L455.00,795.45 L455.62,795.56 L456.27,795.62 L456.97,795.68 L457.69,795.74 L458.44,795.79 L459.21,795.84 L460.00,795.90 L460.80,795.98 L461.60,796.05 L462.41,796.09 L463.21,796.06 L464.01,795.93 L464.79,795.85 L465.56,795.88 L466.30,795.95 L467.01,796.02 L467.69,796.07 L468.34,796.11 L468.94,796.13 L469.50,796.16 L470.00,796.19 L471.02,796.28 L471.43,796.38 L471.53,796.48 L471.63,796.58 L472.04,796.66 L473.06,796.63 L475.00,796.60 L475.43,796.62 L475.89,796.64 L476.39,796.67 L476.93,796.69 L477.50,796.70 L478.10,796.71 L478.73,796.76 L479.39,796.87 L480.08,797.02 L480.78,797.15 L481.51,797.21 L482.26,797.19 L483.03,797.12 L483.81,797.03 L484.61,796.97 L485.42,796.95 L486.24,796.87 L487.06,796.76 L487.90,796.67 L488.74,796.65 L489.58,796.67 L490.42,796.71 L491.26,796.74 L492.10,796.76 L492.94,796.75 L493.76,796.71 L494.58,796.66 L495.39,796.63 L496.19,796.61 L496.97,796.66 L497.74,796.76 L498.49,796.87 L499.22,796.96 L499.92,796.99 L500.61,796.97 L501.27,796.90 L501.90,796.83 L502.50,796.76 L503.07,796.73 L503.61,796.74 L504.11,796.79 L504.57,796.87 L505.00,796.94 L506.81,797.07 L507.52,797.14 L507.58,797.26 L507.42,797.39 L507.48,797.51 L508.19,797.58 L510.00,797.46 L510.42,797.35 L510.86,797.25 L511.33,797.19 L511.81,797.21 L512.32,797.32 L512.85,797.49 L513.40,797.68 L513.97,797.78 L514.56,797.80 L515.16,797.82 L515.78,797.85 L516.42,797.88 L517.07,797.88 L517.74,797.83 L518.42,797.74 L519.11,797.66 L519.82,797.63 L520.53,797.63 L521.26,797.64 L522.00,797.66 L522.75,797.66 L523.50,797.63 L524.27,797.55 L525.04,797.49 L525.81,797.47 L526.60,797.43 L527.38,797.37 L528.17,797.32 L528.97,797.28 L529.77,797.28 L530.56,797.30 L531.36,797.34 L532.16,797.36 L532.96,797.36 L533.76,797.28 L534.55,797.17 L535.35,797.09 L536.14,797.17 L536.92,797.50 L537.70,797.77 L538.47,797.78 L539.24,797.74 L540.00,797.69 L540.65,797.65 L541.32,797.62 L541.98,797.60 L542.66,797.60 L543.34,797.61 L544.03,797.63 L544.73,797.63 L545.43,797.62 L546.13,797.55 L546.84,797.42 L547.55,797.29 L548.27,797.23 L548.99,797.21 L549.72,797.18 L550.45,797.15 L551.18,797.12 L551.91,797.10 L552.65,797.10 L553.38,797.12 L554.12,797.13 L554.86,797.12 L555.60,797.08 L556.34,796.96 L557.07,796.80 L557.81,796.62 L558.55,796.49 L559.29,796.44 L560.02,796.48 L560.75,796.58 L561.48,796.70 L562.21,796.76 L562.93,796.74 L563.65,796.71 L564.37,796.67 L565.08,796.63 L565.78,796.60 L566.49,796.57 L567.18,796.51 L567.87,796.42 L568.56,796.33 L569.24,796.26 L569.91,796.23 L570.58,796.22 L571.23,796.22 L571.88,796.23 L572.52,796.24 L573.16,796.24 L573.78,796.24 L574.40,796.26 L575.00,796.34 L575.82,796.48 L576.61,796.59 L577.39,796.61 L578.13,796.53 L578.86,796.40 L579.57,796.27 L580.26,796.19 L580.94,796.19 L581.60,796.21 L582.25,796.23 L582.89,796.25 L583.52,796.27 L584.14,796.35 L584.76,796.49 L585.37,796.67 L585.97,796.82 L586.58,796.92 L587.19,796.94 L587.80,796.91 L588.41,796.84 L589.03,796.74 L589.65,796.66 L590.28,796.63 L590.93,796.65 L591.58,796.74 L592.25,796.87 L592.93,797.01 L593.63,797.08 L594.34,797.07 L595.08,796.98 L595.84,796.88 L596.62,796.85 L597.42,796.82 L598.25,796.75 L599.11,796.73 L600.00,796.84 L600.58,796.95 L601.18,797.08 L601.79,797.17 L602.42,797.19 L603.07,797.17 L603.73,797.11 L604.40,797.04 L605.09,796.99 L605.79,796.99 L606.50,797.02 L607.23,797.08 L607.96,797.16 L608.71,797.22 L609.46,797.25 L610.22,797.20 L610.99,797.02 L611.76,796.87 L612.55,796.87 L613.33,797.00 L614.12,797.23 L614.92,797.46 L615.72,797.61 L616.52,797.64 L617.32,797.59 L618.13,797.51 L618.93,797.43 L619.73,797.39 L620.54,797.36 L621.34,797.23 L622.14,797.07 L622.93,797.01 L623.72,797.04 L624.51,797.09 L625.28,797.13 L626.06,797.15 L626.82,797.25 L627.58,797.41 L628.33,797.57 L629.07,797.68 L629.81,797.71 L630.53,797.64 L631.23,797.48 L631.93,797.31 L632.61,797.18 L633.28,797.14 L633.94,797.16 L634.58,797.20 L635.21,797.24 L635.81,797.26 L636.41,797.26 L636.98,797.25 L637.53,797.23 L638.07,797.20 L638.58,797.18 L639.08,797.15 L639.55,797.14 L640.00,797.13 L641.59,797.26 L642.82,797.41 L643.75,797.39 L644.43,797.34 L644.92,797.29 L645.28,797.23 L645.56,797.16 L645.82,797.08 L646.11,797.01 L646.49,796.94 L647.01,796.86 L647.73,796.71 L648.71,796.47 L650.00,796.31 L650.48,796.24 L651.00,796.14 L651.56,796.02 L652.15,795.94 L652.76,795.94 L653.41,795.99 L654.08,796.05 L654.78,796.09 L655.50,796.05 L656.24,795.96 L657.00,795.89 L657.78,795.87 L658.57,795.90 L659.38,795.96 L660.20,796.01 L661.03,796.05 L661.87,796.06 L662.71,796.14 L663.56,796.25 L664.42,796.35 L665.27,796.39 L666.12,796.39 L666.98,796.38 L667.82,796.37 L668.66,796.37 L669.49,796.38 L670.32,796.43 L671.13,796.49 L671.92,796.54 L672.70,796.56 L673.47,796.54 L674.21,796.48 L674.94,796.40 L675.64,796.35 L676.32,796.33 L676.97,796.34 L677.59,796.38 L678.18,796.41 L678.74,796.45 L679.27,796.47 L679.76,796.48 L680.21,796.47 L680.63,796.45 L681.00,796.30" fill="none" stroke="#262626" stroke-width="1.3" stroke-linejoin="round"/>
</svg>
</body></html>
